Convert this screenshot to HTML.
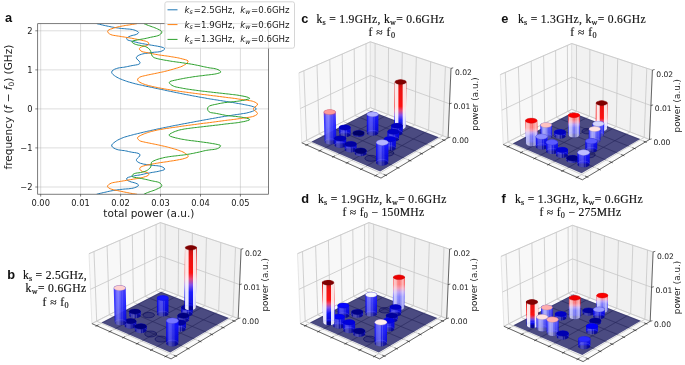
<!DOCTYPE html>
<html><head><meta charset="utf-8"><title>figure</title><style>html,body{margin:0;padding:0;background:#fff}svg{display:block}</style></head><body>
<svg width="685" height="365" viewBox="0 0 685 365" font-family="'DejaVu Sans','Liberation Sans',sans-serif" fill="#1a1a1a">
<defs><linearGradient id="bAb13" x1="0" x2="0" y1="1" y2="0"><stop offset="0" stop-color="#000096"/><stop offset="0.05" stop-color="#0000e1"/><stop offset="0.26" stop-color="#0e0eff"/><stop offset="0.38" stop-color="#7846eb"/><stop offset="0.48" stop-color="#e63c6e"/><stop offset="0.58" stop-color="#ff0000"/><stop offset="0.85" stop-color="#e80000"/><stop offset="1" stop-color="#b90000"/></linearGradient><linearGradient id="bAc13" x1="0" x2="0" y1="1" y2="0"><stop offset="0" stop-color="#000096"/><stop offset="0.05" stop-color="#0000e1"/><stop offset="0.14" stop-color="#0e0eff"/><stop offset="0.26" stop-color="#7846eb"/><stop offset="0.36" stop-color="#e63c6e"/><stop offset="0.46" stop-color="#ff0000"/><stop offset="0.85" stop-color="#e80000"/><stop offset="1" stop-color="#b90000"/></linearGradient><linearGradient id="bAd1" x1="0" x2="0" y1="1" y2="0"><stop offset="0" stop-color="#000096"/><stop offset="0.05" stop-color="#0000e1"/><stop offset="0.25" stop-color="#0e0eff"/><stop offset="0.37" stop-color="#7846eb"/><stop offset="0.47" stop-color="#e63c6e"/><stop offset="0.57" stop-color="#ff0000"/><stop offset="0.85" stop-color="#e80000"/><stop offset="1" stop-color="#b90000"/></linearGradient><linearGradient id="bAe13" x1="0" x2="0" y1="1" y2="0"><stop offset="0" stop-color="#000096"/><stop offset="0.05" stop-color="#0000e1"/><stop offset="0.08" stop-color="#0e0eff"/><stop offset="0.2" stop-color="#7846eb"/><stop offset="0.3" stop-color="#e63c6e"/><stop offset="0.4" stop-color="#ff0000"/><stop offset="0.85" stop-color="#e80000"/><stop offset="1" stop-color="#b90000"/></linearGradient><linearGradient id="bAf1" x1="0" x2="0" y1="1" y2="0"><stop offset="0" stop-color="#000096"/><stop offset="0.05" stop-color="#0000e1"/><stop offset="0.13" stop-color="#0e0eff"/><stop offset="0.25" stop-color="#7846eb"/><stop offset="0.35" stop-color="#e63c6e"/><stop offset="0.45" stop-color="#ff0000"/><stop offset="0.85" stop-color="#e80000"/><stop offset="1" stop-color="#b90000"/></linearGradient><linearGradient id="bodyA" x1="0" x2="0" y1="1" y2="0"><stop offset="0" stop-color="#000096"/><stop offset="0.06" stop-color="#0000e1"/><stop offset="0.28" stop-color="#0e0eff"/><stop offset="0.4" stop-color="#7846eb"/><stop offset="0.5" stop-color="#e63c6e"/><stop offset="0.6" stop-color="#ff0000"/><stop offset="1" stop-color="#e40000"/></linearGradient><linearGradient id="bodyB" x1="0" x2="0" y1="1" y2="0"><stop offset="0" stop-color="#000096"/><stop offset="0.06" stop-color="#0000e1"/><stop offset="0.32" stop-color="#0e0eff"/><stop offset="0.56" stop-color="#281efa"/><stop offset="0.67" stop-color="#c81e6e"/><stop offset="0.77" stop-color="#ff0a0a"/><stop offset="1" stop-color="#e40000"/></linearGradient><linearGradient id="g0" href="#bodyB" gradientUnits="userSpaceOnUse" x1="0" x2="0" y1="313.8" y2="253.3"/><linearGradient id="ovD" x1="0" x2="1" y1="0" y2="0"><stop offset="0" stop-color="#fff" stop-opacity="0"/><stop offset="0.2" stop-color="#fff" stop-opacity="0.1"/><stop offset="0.4" stop-color="#fff" stop-opacity="0.18"/><stop offset="0.55" stop-color="#fff" stop-opacity="0.05"/><stop offset="1" stop-color="#fff" stop-opacity="0"/></linearGradient><linearGradient id="g1" href="#bAb13" gradientUnits="userSpaceOnUse" x1="0" x2="0" y1="307.6" y2="247.8"/><linearGradient id="ovA" x1="0" x2="1" y1="0" y2="0"><stop offset="0" stop-color="#fff" stop-opacity="0"/><stop offset="0.05" stop-color="#fff" stop-opacity="0"/><stop offset="0.1" stop-color="#fff" stop-opacity="0.9"/><stop offset="0.31" stop-color="#fff" stop-opacity="0.9"/><stop offset="0.38" stop-color="#fff" stop-opacity="0"/><stop offset="0.66" stop-color="#fff" stop-opacity="0"/><stop offset="0.72" stop-color="#fff" stop-opacity="0.88"/><stop offset="0.93" stop-color="#fff" stop-opacity="0.88"/><stop offset="0.98" stop-color="#fff" stop-opacity="0"/><stop offset="1" stop-color="#fff" stop-opacity="0"/></linearGradient><linearGradient id="g2" href="#bodyB" gradientUnits="userSpaceOnUse" x1="0" x2="0" y1="313.9" y2="253.4"/><linearGradient id="g3" href="#bodyB" gradientUnits="userSpaceOnUse" x1="0" x2="0" y1="315.5" y2="254.9"/><linearGradient id="g4" href="#bodyB" gradientUnits="userSpaceOnUse" x1="0" x2="0" y1="320" y2="258.9"/><linearGradient id="g5" href="#bodyB" gradientUnits="userSpaceOnUse" x1="0" x2="0" y1="325.8" y2="264.1"/><linearGradient id="g6" href="#bodyB" gradientUnits="userSpaceOnUse" x1="0" x2="0" y1="322.5" y2="261.2"/><linearGradient id="ovC" x1="0" x2="1" y1="0" y2="0"><stop offset="0" stop-color="#fff" stop-opacity="0"/><stop offset="0.15" stop-color="#fff" stop-opacity="0.2"/><stop offset="0.4" stop-color="#fff" stop-opacity="0.3"/><stop offset="0.55" stop-color="#fff" stop-opacity="0.1"/><stop offset="0.8" stop-color="#fff" stop-opacity="0.08"/><stop offset="1" stop-color="#fff" stop-opacity="0"/></linearGradient><linearGradient id="g7" href="#bodyB" gradientUnits="userSpaceOnUse" x1="0" x2="0" y1="329.1" y2="267.1"/><linearGradient id="g8" href="#bodyB" gradientUnits="userSpaceOnUse" x1="0" x2="0" y1="330.3" y2="268.2"/><linearGradient id="g9" href="#bodyB" gradientUnits="userSpaceOnUse" x1="0" x2="0" y1="343.3" y2="280"/><linearGradient id="g10" href="#bAc13" gradientUnits="userSpaceOnUse" x1="0" x2="0" y1="126.8" y2="82"/><linearGradient id="g11" href="#bodyB" gradientUnits="userSpaceOnUse" x1="0" x2="0" y1="133" y2="87.7"/><linearGradient id="g12" href="#bodyB" gradientUnits="userSpaceOnUse" x1="0" x2="0" y1="134.3" y2="88.9"/><linearGradient id="g13" href="#bodyB" gradientUnits="userSpaceOnUse" x1="0" x2="0" y1="133.1" y2="87.8"/><linearGradient id="g14" href="#bodyB" gradientUnits="userSpaceOnUse" x1="0" x2="0" y1="134.7" y2="89.3"/><linearGradient id="g15" href="#bodyB" gradientUnits="userSpaceOnUse" x1="0" x2="0" y1="139.2" y2="93.4"/><linearGradient id="g16" href="#bodyB" gradientUnits="userSpaceOnUse" x1="0" x2="0" y1="141.7" y2="95.7"/><linearGradient id="g17" href="#bodyB" gradientUnits="userSpaceOnUse" x1="0" x2="0" y1="145" y2="98.8"/><linearGradient id="g18" href="#bodyB" gradientUnits="userSpaceOnUse" x1="0" x2="0" y1="148.3" y2="101.9"/><linearGradient id="g19" href="#bodyB" gradientUnits="userSpaceOnUse" x1="0" x2="0" y1="149.5" y2="103"/><linearGradient id="g20" href="#bodyB" gradientUnits="userSpaceOnUse" x1="0" x2="0" y1="153.2" y2="106.4"/><linearGradient id="g21" href="#bodyB" gradientUnits="userSpaceOnUse" x1="0" x2="0" y1="162.5" y2="115.1"/><linearGradient id="g22" href="#bodyA" gradientUnits="userSpaceOnUse" x1="0" x2="0" y1="307.6" y2="268.8"/><linearGradient id="ovB" x1="0" x2="1" y1="0" y2="0"><stop offset="0" stop-color="#fff" stop-opacity="0.15"/><stop offset="0.1" stop-color="#fff" stop-opacity="0.75"/><stop offset="0.3" stop-color="#fff" stop-opacity="0.65"/><stop offset="0.42" stop-color="#fff" stop-opacity="0.38"/><stop offset="0.6" stop-color="#fff" stop-opacity="0.4"/><stop offset="0.8" stop-color="#fff" stop-opacity="0.7"/><stop offset="0.92" stop-color="#fff" stop-opacity="0.6"/><stop offset="1" stop-color="#fff" stop-opacity="0.1"/></linearGradient><linearGradient id="g23" href="#bodyB" gradientUnits="userSpaceOnUse" x1="0" x2="0" y1="313.8" y2="274.6"/><linearGradient id="g24" href="#bodyB" gradientUnits="userSpaceOnUse" x1="0" x2="0" y1="315.1" y2="275.8"/><linearGradient id="g25" href="#bodyB" gradientUnits="userSpaceOnUse" x1="0" x2="0" y1="313.9" y2="274.7"/><linearGradient id="g26" href="#bodyB" gradientUnits="userSpaceOnUse" x1="0" x2="0" y1="315.5" y2="276.2"/><linearGradient id="g27" href="#bodyB" gradientUnits="userSpaceOnUse" x1="0" x2="0" y1="320" y2="280.4"/><linearGradient id="g28" href="#bodyB" gradientUnits="userSpaceOnUse" x1="0" x2="0" y1="325.8" y2="285.8"/><linearGradient id="g29" href="#bAd1" gradientUnits="userSpaceOnUse" x1="0" x2="0" y1="322.5" y2="282.7"/><linearGradient id="g30" href="#bodyB" gradientUnits="userSpaceOnUse" x1="0" x2="0" y1="329.1" y2="288.9"/><linearGradient id="g31" href="#bodyB" gradientUnits="userSpaceOnUse" x1="0" x2="0" y1="330.3" y2="290.1"/><linearGradient id="g32" href="#bodyB" gradientUnits="userSpaceOnUse" x1="0" x2="0" y1="334" y2="293.5"/><linearGradient id="g33" href="#bodyB" gradientUnits="userSpaceOnUse" x1="0" x2="0" y1="343.3" y2="302.3"/><linearGradient id="g34" href="#bAe13" gradientUnits="userSpaceOnUse" x1="0" x2="0" y1="128.5" y2="103"/><linearGradient id="g35" href="#bodyB" gradientUnits="userSpaceOnUse" x1="0" x2="0" y1="134.7" y2="108.9"/><linearGradient id="ovS" x1="0" x2="1" y1="0" y2="0"><stop offset="0" stop-color="#fff" stop-opacity="0"/><stop offset="0.12" stop-color="#fff" stop-opacity="0.35"/><stop offset="0.3" stop-color="#fff" stop-opacity="0.6"/><stop offset="0.5" stop-color="#fff" stop-opacity="0.5"/><stop offset="0.65" stop-color="#fff" stop-opacity="0.25"/><stop offset="0.85" stop-color="#fff" stop-opacity="0.3"/><stop offset="1" stop-color="#fff" stop-opacity="0"/></linearGradient><linearGradient id="g36" href="#bodyB" gradientUnits="userSpaceOnUse" x1="0" x2="0" y1="136" y2="110.2"/><linearGradient id="g37" href="#bodyA" gradientUnits="userSpaceOnUse" x1="0" x2="0" y1="134.8" y2="109"/><linearGradient id="g38" href="#bodyB" gradientUnits="userSpaceOnUse" x1="0" x2="0" y1="136.4" y2="110.6"/><linearGradient id="g39" href="#bodyB" gradientUnits="userSpaceOnUse" x1="0" x2="0" y1="140.9" y2="114.8"/><linearGradient id="g40" href="#bodyA" gradientUnits="userSpaceOnUse" x1="0" x2="0" y1="143.4" y2="117.3"/><linearGradient id="g41" href="#bodyB" gradientUnits="userSpaceOnUse" x1="0" x2="0" y1="146.7" y2="120.4"/><linearGradient id="g42" href="#bodyB" gradientUnits="userSpaceOnUse" x1="0" x2="0" y1="150" y2="123.6"/><linearGradient id="g43" href="#bodyB" gradientUnits="userSpaceOnUse" x1="0" x2="0" y1="151.2" y2="124.8"/><linearGradient id="g44" href="#bodyB" gradientUnits="userSpaceOnUse" x1="0" x2="0" y1="154.9" y2="128.3"/><linearGradient id="g45" href="#bodyB" gradientUnits="userSpaceOnUse" x1="0" x2="0" y1="160" y2="133.2"/><linearGradient id="g46" href="#bodyB" gradientUnits="userSpaceOnUse" x1="0" x2="0" y1="164.2" y2="137.3"/><linearGradient id="g47" href="#bodyA" gradientUnits="userSpaceOnUse" x1="0" x2="0" y1="310.3" y2="287.8"/><linearGradient id="g48" href="#bodyB" gradientUnits="userSpaceOnUse" x1="0" x2="0" y1="313" y2="290.4"/><linearGradient id="g49" href="#bodyB" gradientUnits="userSpaceOnUse" x1="0" x2="0" y1="316.5" y2="293.7"/><linearGradient id="g50" href="#bodyB" gradientUnits="userSpaceOnUse" x1="0" x2="0" y1="317.8" y2="295"/><linearGradient id="g51" href="#bodyA" gradientUnits="userSpaceOnUse" x1="0" x2="0" y1="316.6" y2="293.8"/><linearGradient id="g52" href="#bodyB" gradientUnits="userSpaceOnUse" x1="0" x2="0" y1="318.2" y2="295.3"/><linearGradient id="g53" href="#bodyB" gradientUnits="userSpaceOnUse" x1="0" x2="0" y1="322.7" y2="299.6"/><linearGradient id="g54" href="#bAf1" gradientUnits="userSpaceOnUse" x1="0" x2="0" y1="325.2" y2="302.1"/><linearGradient id="g55" href="#bodyB" gradientUnits="userSpaceOnUse" x1="0" x2="0" y1="328.5" y2="305.3"/><linearGradient id="g56" href="#bodyB" gradientUnits="userSpaceOnUse" x1="0" x2="0" y1="331.8" y2="308.4"/><linearGradient id="g57" href="#bodyB" gradientUnits="userSpaceOnUse" x1="0" x2="0" y1="333" y2="309.6"/><linearGradient id="g58" href="#bodyB" gradientUnits="userSpaceOnUse" x1="0" x2="0" y1="336.7" y2="313.2"/><linearGradient id="g59" href="#bodyB" gradientUnits="userSpaceOnUse" x1="0" x2="0" y1="346" y2="322.2"/></defs>
<g id="pb"><polygon points="91.9,323.6 160.5,288.5 160.4,222.6 89,253.7" fill="#f8f8f8" stroke="#d6d6d6" stroke-width=".6"/>
<polygon points="160.5,288.5 238.2,318.6 241.1,249.2 160.4,222.6" fill="#f1f1f1" stroke="#d6d6d6" stroke-width=".6"/>
<polygon points="91.9,323.6 171.1,358.9 238.2,318.6 160.5,288.5" fill="#fafafa" stroke="#d6d6d6" stroke-width=".6"/>
<path d="M96.7,325.8 L165.2,290.3 L165.2,224.2 M175.8,356.1 L96.7,321.2 L94,251.5 M109.8,331.6 L178.2,295.3 L178.6,228.6 M188.2,348.6 L109.3,314.8 L107.1,245.8 M123.3,337.6 L191.4,300.5 L192.4,233.2 M200.2,341.4 L121.5,308.5 L119.9,240.3 M137.1,343.7 L204.9,305.7 L206.4,237.8 M211.8,334.4 L133.5,302.4 L132.3,234.8 M151.2,350 L218.7,311 L220.8,242.5 M223.2,327.6 L145.1,296.4 L144.3,229.6 M165.7,356.4 L232.9,316.5 L235.5,247.4 M234.2,321 L156.4,290.6 L156.1,224.5 M91.9,323.6 L160.5,288.5 L238.2,318.6 M90.5,289.3 L160.5,256.2 L239.6,284.6 M89,253.7 L160.4,222.6 L241.1,249.2" fill="none" stroke="#c6c6c6" stroke-width=".8"/>
<path d="M91.9,323.6 L171.1,358.9 L238.2,318.6 M238.2,318.6 L241.1,249.2 M98.5,324.8 L95.5,326.4 M173.7,355.1 L177.1,356.6 M111.6,330.6 L108.7,332.2 M186.1,347.8 L189.5,349.2 M125.1,336.6 L122.1,338.2 M198.1,340.6 L201.5,342 M138.8,342.7 L135.9,344.3 M209.8,333.6 L213.1,335 M153,349 L150,350.7 M221.1,326.8 L224.5,328.1 M167.5,355.4 L164.5,357.1 M232.2,320.2 L235.5,321.5 M238.2,318.6 L240.4,318 M239.6,284.6 L241.8,284 M241.1,249.2 L243.3,248.6" fill="none" stroke="#222" stroke-width=".65"/>
<polygon points="101.4,322.5 170.3,352.4 228.9,318.1 161.1,291.7" fill="#00004d" fill-opacity=".7"/>
<path d="M114.6,329.1 L174.1,297.5 M114,316.8 L182.7,346.3 M128,335 L187.3,302.7 M126.3,310.5 L194.8,339.2 M141.8,341.1 L200.8,308 M138.2,304.3 L206.4,332.2 M155.9,347.3 L214.7,313.4 M149.8,298.3 L217.8,325.5" fill="none" stroke="#14144a" stroke-opacity=".4" stroke-width=".6"/>
<path d="M181.1,313.8 A5.8,2.7 0 0 0 192.7,313.8 L192.8,307.5 A5.8,2.7 0 0 0 181.2,307.5 Z" fill="url(#g0)" fill-opacity=".93"/>
<path d="M181.1,313.8 A5.8,2.7 0 0 0 192.7,313.8 L192.8,307.5 A5.8,2.7 0 0 0 181.2,307.5 Z" fill="url(#ovD)"/>
<path d="M183.2,315.9 V309.6 M184.3,316.2 V309.9 M185.4,316.4 V310.1 M186.7,316.5 V310.2 M188.4,316.4 V310.1" stroke="#fff" stroke-opacity=".3" stroke-width=".6" fill="none"/>
<path d="M181.1,313.8 A5.8,2.7 0 0 1 192.7,313.8" fill="none" stroke="#9a9aff" stroke-opacity=".35" stroke-width=".6"/>
<ellipse cx="187" cy="307.5" rx="5.6" ry="2.5" fill="#000099" stroke="#000077" stroke-opacity=".55" stroke-width=".6"/>
<ellipse cx="148.7" cy="315.1" rx="5.8" ry="2.7" fill="#000060" fill-opacity=".25" stroke="#000058" stroke-opacity=".75" stroke-width=".7"/>
<path d="M184.3,307.6 A5.7,2.7 0 0 0 195.8,307.6 L196.8,247.8 A5.9,2.4 0 0 0 185,247.8 Z" fill="url(#g1)" fill-opacity=".93"/>
<path d="M184.3,307.6 A5.7,2.7 0 0 0 195.8,307.6 L196.8,247.8 A5.9,2.4 0 0 0 185,247.8 Z" fill="url(#ovA)"/>
<path d="M184.3,307.6 A5.7,2.7 0 0 1 195.8,307.6" fill="none" stroke="#9a9aff" stroke-opacity=".35" stroke-width=".6"/>
<ellipse cx="190.9" cy="247.8" rx="5.7" ry="2.2" fill="#800000" stroke="#630000" stroke-opacity=".55" stroke-width=".6"/>
<path d="M156.9,313.9 A5.8,2.7 0 0 0 168.5,313.9 L168.5,298 A5.8,2.7 0 0 0 156.9,298 Z" fill="url(#g2)" fill-opacity=".93"/>
<path d="M156.9,313.9 A5.8,2.7 0 0 0 168.5,313.9 L168.5,298 A5.8,2.7 0 0 0 156.9,298 Z" fill="url(#ovD)"/>
<path d="M159,316 V300 M160.1,316.3 V300.3 M161.2,316.5 V300.5 M162.5,316.6 V300.6 M164.2,316.5 V300.5" stroke="#fff" stroke-opacity=".3" stroke-width=".6" fill="none"/>
<path d="M156.9,313.9 A5.8,2.7 0 0 1 168.5,313.9" fill="none" stroke="#9a9aff" stroke-opacity=".35" stroke-width=".6"/>
<ellipse cx="162.7" cy="298" rx="5.6" ry="2.5" fill="#1414ff" stroke="#0f0fc6" stroke-opacity=".55" stroke-width=".6"/>
<path d="M129.2,315.5 A5.8,2.7 0 0 0 140.8,315.5 L140.7,311.6 A5.8,2.7 0 0 0 129.1,311.6 Z" fill="url(#g3)" fill-opacity=".93"/>
<path d="M129.2,315.5 A5.8,2.7 0 0 0 140.8,315.5 L140.7,311.6 A5.8,2.7 0 0 0 129.1,311.6 Z" fill="url(#ovD)"/>
<path d="M131.3,317.6 V313.6 M132.3,317.9 V314 M133.5,318.2 V314.2 M134.8,318.2 V314.3 M136.5,318.2 V314.2" stroke="#fff" stroke-opacity=".3" stroke-width=".6" fill="none"/>
<path d="M129.2,315.5 A5.8,2.7 0 0 1 140.8,315.5" fill="none" stroke="#9a9aff" stroke-opacity=".35" stroke-width=".6"/>
<ellipse cx="134.9" cy="311.6" rx="5.6" ry="2.5" fill="#00007d" stroke="#000061" stroke-opacity=".55" stroke-width=".6"/>
<path d="M177.4,320 A5.9,2.8 0 0 0 189.1,320 L189.2,315.7 A5.9,2.8 0 0 0 177.5,315.7 Z" fill="url(#g4)" fill-opacity=".93"/>
<path d="M177.4,320 A5.9,2.8 0 0 0 189.1,320 L189.2,315.7 A5.9,2.8 0 0 0 177.5,315.7 Z" fill="url(#ovD)"/>
<path d="M179.5,322.1 V317.8 M180.6,322.4 V318.2 M181.8,322.6 V318.4 M183.1,322.7 V318.5 M184.8,322.6 V318.4" stroke="#fff" stroke-opacity=".3" stroke-width=".6" fill="none"/>
<path d="M177.4,320 A5.9,2.8 0 0 1 189.1,320" fill="none" stroke="#9a9aff" stroke-opacity=".35" stroke-width=".6"/>
<ellipse cx="183.3" cy="315.7" rx="5.7" ry="2.6" fill="#000080" stroke="#000063" stroke-opacity=".55" stroke-width=".6"/>
<path d="M124.5,325.8 A5.9,2.9 0 0 0 136.4,325.8 L136.3,321.2 A5.9,2.8 0 0 0 124.4,321.2 Z" fill="url(#g5)" fill-opacity=".93"/>
<path d="M124.5,325.8 A5.9,2.9 0 0 0 136.4,325.8 L136.3,321.2 A5.9,2.8 0 0 0 124.4,321.2 Z" fill="url(#ovD)"/>
<path d="M126.7,328 V323.3 M127.7,328.3 V323.7 M128.9,328.5 V323.9 M130.2,328.6 V324 M132,328.5 V323.9" stroke="#fff" stroke-opacity=".3" stroke-width=".6" fill="none"/>
<path d="M124.5,325.8 A5.9,2.9 0 0 1 136.4,325.8" fill="none" stroke="#9a9aff" stroke-opacity=".35" stroke-width=".6"/>
<ellipse cx="130.4" cy="321.2" rx="5.7" ry="2.6" fill="#000084" stroke="#000066" stroke-opacity=".55" stroke-width=".6"/>
<path d="M114.7,322.5 A5.9,2.8 0 0 0 126.5,322.5 L125.7,287.9 A6,2.7 0 0 0 113.7,287.9 Z" fill="url(#g6)" fill-opacity=".93"/>
<path d="M114.7,322.5 A5.9,2.8 0 0 0 126.5,322.5 L125.7,287.9 A6,2.7 0 0 0 113.7,287.9 Z" fill="url(#ovC)"/>
<path d="M116.8,324.6 V289.9 M117.9,325 V290.2 M119,325.2 V290.4 M120.3,325.3 V290.5 M122.1,325.2 V290.4" stroke="#fff" stroke-opacity=".3" stroke-width=".6" fill="none"/>
<path d="M114.7,322.5 A5.9,2.8 0 0 1 126.5,322.5" fill="none" stroke="#9a9aff" stroke-opacity=".35" stroke-width=".6"/>
<ellipse cx="119.7" cy="287.9" rx="5.8" ry="2.5" fill="#ffd1d1" stroke="#c6a3a3" stroke-opacity=".55" stroke-width=".6"/>
<path d="M174,329.1 A6,2.9 0 0 0 185.9,329.1 L186,322.6 A6,2.9 0 0 0 174,322.6 Z" fill="url(#g7)" fill-opacity=".93"/>
<path d="M174,329.1 A6,2.9 0 0 0 185.9,329.1 L186,322.6 A6,2.9 0 0 0 174,322.6 Z" fill="url(#ovD)"/>
<path d="M176.1,331.3 V324.8 M177.2,331.7 V325.2 M178.4,331.9 V325.4 M179.7,332 V325.5 M181.5,331.9 V325.4" stroke="#fff" stroke-opacity=".3" stroke-width=".6" fill="none"/>
<path d="M174,329.1 A6,2.9 0 0 1 185.9,329.1" fill="none" stroke="#9a9aff" stroke-opacity=".35" stroke-width=".6"/>
<ellipse cx="180" cy="322.6" rx="5.8" ry="2.7" fill="#000099" stroke="#000077" stroke-opacity=".55" stroke-width=".6"/>
<path d="M134.7,330.3 A6,2.9 0 0 0 146.7,330.3 L146.7,326.4 A6,2.9 0 0 0 134.7,326.4 Z" fill="url(#g8)" fill-opacity=".93"/>
<path d="M134.7,330.3 A6,2.9 0 0 0 146.7,330.3 L146.7,326.4 A6,2.9 0 0 0 134.7,326.4 Z" fill="url(#ovD)"/>
<path d="M136.9,332.6 V328.6 M138,332.9 V329 M139.2,333.2 V329.2 M140.5,333.3 V329.3 M142.3,333.2 V329.2" stroke="#fff" stroke-opacity=".3" stroke-width=".6" fill="none"/>
<path d="M134.7,330.3 A6,2.9 0 0 1 146.7,330.3" fill="none" stroke="#9a9aff" stroke-opacity=".35" stroke-width=".6"/>
<ellipse cx="140.7" cy="326.4" rx="5.8" ry="2.7" fill="#00007b" stroke="#00005f" stroke-opacity=".55" stroke-width=".6"/>
<ellipse cx="150.7" cy="334" rx="6" ry="3" fill="#000060" fill-opacity=".25" stroke="#000058" stroke-opacity=".75" stroke-width=".7"/>
<ellipse cx="161.1" cy="339.1" rx="6.1" ry="3" fill="#000060" fill-opacity=".25" stroke="#000058" stroke-opacity=".75" stroke-width=".7"/>
<path d="M166.1,343.3 A6.1,3.1 0 0 0 178.4,343.3 L178.6,320.7 A6.2,3 0 0 0 166.1,320.7 Z" fill="url(#g9)" fill-opacity=".93"/>
<path d="M166.1,343.3 A6.1,3.1 0 0 0 178.4,343.3 L178.6,320.7 A6.2,3 0 0 0 166.1,320.7 Z" fill="url(#ovD)"/>
<path d="M168.3,345.7 V322.9 M169.5,346.1 V323.3 M170.7,346.3 V323.5 M172,346.4 V323.6 M173.9,346.3 V323.5" stroke="#fff" stroke-opacity=".3" stroke-width=".6" fill="none"/>
<path d="M166.1,343.3 A6.1,3.1 0 0 1 178.4,343.3" fill="none" stroke="#9a9aff" stroke-opacity=".35" stroke-width=".6"/>
<ellipse cx="172.4" cy="320.7" rx="6" ry="2.8" fill="#7676ff" stroke="#5c5cc6" stroke-opacity=".55" stroke-width=".6"/>
<text x="242.1" y="324.2" font-size="7.6">0.00</text>
<text x="243.5" y="289.8" font-size="7.6">0.01</text>
<text x="245" y="256.1" font-size="7.6">0.02</text>
<text transform="translate(268.3,284.8) rotate(-90)" text-anchor="middle" font-size="8.8">power (a.u.)</text></g>
<g id="pc"><polygon points="301.8,142.8 370.4,107.7 370.3,41.8 298.9,72.9" fill="#f8f8f8" stroke="#d6d6d6" stroke-width=".6"/>
<polygon points="370.4,107.7 448.1,137.8 451,68.4 370.3,41.8" fill="#f1f1f1" stroke="#d6d6d6" stroke-width=".6"/>
<polygon points="301.8,142.8 381,178.1 448.1,137.8 370.4,107.7" fill="#fafafa" stroke="#d6d6d6" stroke-width=".6"/>
<path d="M306.6,145 L375.1,109.5 L375.1,43.4 M385.7,175.3 L306.6,140.4 L303.9,70.7 M319.7,150.8 L388.1,114.5 L388.5,47.8 M398.1,167.8 L319.2,134 L317,65 M333.2,156.8 L401.3,119.7 L402.3,52.4 M410.1,160.6 L331.4,127.7 L329.8,59.5 M347,162.9 L414.8,124.9 L416.3,57 M421.7,153.6 L343.4,121.6 L342.2,54 M361.1,169.2 L428.6,130.2 L430.7,61.7 M433.1,146.8 L355,115.6 L354.2,48.8 M375.6,175.6 L442.8,135.7 L445.4,66.6 M444.1,140.2 L366.3,109.8 L366,43.7 M301.8,142.8 L370.4,107.7 L448.1,137.8 M300.4,108.5 L370.4,75.4 L449.5,103.8 M298.9,72.9 L370.3,41.8 L451,68.4" fill="none" stroke="#c6c6c6" stroke-width=".8"/>
<path d="M301.8,142.8 L381,178.1 L448.1,137.8 M448.1,137.8 L451,68.4 M308.4,144 L305.4,145.6 M383.6,174.3 L387,175.8 M321.5,149.8 L318.6,151.4 M396,167 L399.4,168.4 M335,155.8 L332,157.4 M408,159.8 L411.4,161.2 M348.7,161.9 L345.8,163.5 M419.7,152.8 L423,154.2 M362.9,168.2 L359.9,169.9 M431,146 L434.4,147.3 M377.4,174.6 L374.4,176.3 M442.1,139.4 L445.4,140.7 M448.1,137.8 L450.3,137.2 M449.5,103.8 L451.7,103.2 M451,68.4 L453.2,67.8" fill="none" stroke="#222" stroke-width=".65"/>
<polygon points="311.3,141.7 380.2,171.6 438.8,137.3 371,110.9" fill="#00004d" fill-opacity=".7"/>
<path d="M324.5,148.3 L384,116.7 M323.9,136 L392.6,165.5 M337.9,154.2 L397.2,121.9 M336.2,129.7 L404.7,158.4 M351.7,160.3 L410.7,127.2 M348.1,123.5 L416.3,151.4 M365.8,166.5 L424.6,132.6 M359.7,117.5 L427.7,144.7" fill="none" stroke="#14144a" stroke-opacity=".4" stroke-width=".6"/>
<path d="M394.2,126.8 A5.7,2.7 0 0 0 405.7,126.8 L406.4,82 A5.8,2.5 0 0 0 394.7,82 Z" fill="url(#g10)" fill-opacity=".93"/>
<path d="M394.2,126.8 A5.7,2.7 0 0 0 405.7,126.8 L406.4,82 A5.8,2.5 0 0 0 394.7,82 Z" fill="url(#ovA)"/>
<path d="M394.2,126.8 A5.7,2.7 0 0 1 405.7,126.8" fill="none" stroke="#9a9aff" stroke-opacity=".35" stroke-width=".6"/>
<ellipse cx="400.6" cy="82" rx="5.6" ry="2.3" fill="#800000" stroke="#630000" stroke-opacity=".55" stroke-width=".6"/>
<path d="M391,133 A5.8,2.7 0 0 0 402.6,133 L402.7,125.8 A5.8,2.7 0 0 0 391.1,125.8 Z" fill="url(#g11)" fill-opacity=".93"/>
<path d="M391,133 A5.8,2.7 0 0 0 402.6,133 L402.7,125.8 A5.8,2.7 0 0 0 391.1,125.8 Z" fill="url(#ovD)"/>
<path d="M393.1,135.1 V127.9 M394.2,135.4 V128.2 M395.3,135.6 V128.4 M396.6,135.7 V128.5 M398.3,135.6 V128.4" stroke="#fff" stroke-opacity=".3" stroke-width=".6" fill="none"/>
<path d="M391,133 A5.8,2.7 0 0 1 402.6,133" fill="none" stroke="#9a9aff" stroke-opacity=".35" stroke-width=".6"/>
<ellipse cx="396.9" cy="125.8" rx="5.6" ry="2.5" fill="#0000c0" stroke="#000095" stroke-opacity=".55" stroke-width=".6"/>
<path d="M352.8,134.3 A5.8,2.7 0 0 0 364.4,134.3 L364.4,132.9 A5.8,2.7 0 0 0 352.8,132.9 Z" fill="url(#g12)" fill-opacity=".93"/>
<path d="M352.8,134.3 A5.8,2.7 0 0 0 364.4,134.3 L364.4,132.9 A5.8,2.7 0 0 0 352.8,132.9 Z" fill="url(#ovD)"/>
<path d="M352.8,134.3 A5.8,2.7 0 0 1 364.4,134.3" fill="none" stroke="#9a9aff" stroke-opacity=".35" stroke-width=".6"/>
<ellipse cx="358.6" cy="132.9" rx="5.6" ry="2.5" fill="#000064" stroke="#00004e" stroke-opacity=".55" stroke-width=".6"/>
<path d="M366.8,133.1 A5.8,2.7 0 0 0 378.4,133.1 L378.4,114.3 A5.8,2.6 0 0 0 366.8,114.3 Z" fill="url(#g13)" fill-opacity=".93"/>
<path d="M366.8,133.1 A5.8,2.7 0 0 0 378.4,133.1 L378.4,114.3 A5.8,2.6 0 0 0 366.8,114.3 Z" fill="url(#ovD)"/>
<path d="M368.9,135.2 V116.4 M370,135.5 V116.7 M371.1,135.7 V116.9 M372.4,135.8 V117 M374.1,135.7 V116.9" stroke="#fff" stroke-opacity=".3" stroke-width=".6" fill="none"/>
<path d="M366.8,133.1 A5.8,2.7 0 0 1 378.4,133.1" fill="none" stroke="#9a9aff" stroke-opacity=".35" stroke-width=".6"/>
<ellipse cx="372.6" cy="114.3" rx="5.6" ry="2.4" fill="#aeaeff" stroke="#8787c6" stroke-opacity=".55" stroke-width=".6"/>
<path d="M339.1,134.7 A5.8,2.7 0 0 0 350.7,134.7 L350.6,127.5 A5.8,2.7 0 0 0 338.9,127.5 Z" fill="url(#g14)" fill-opacity=".93"/>
<path d="M339.1,134.7 A5.8,2.7 0 0 0 350.7,134.7 L350.6,127.5 A5.8,2.7 0 0 0 338.9,127.5 Z" fill="url(#ovD)"/>
<path d="M341.2,136.8 V129.5 M342.2,137.1 V129.9 M343.4,137.4 V130.1 M344.7,137.4 V130.2 M346.4,137.4 V130.1" stroke="#fff" stroke-opacity=".3" stroke-width=".6" fill="none"/>
<path d="M339.1,134.7 A5.8,2.7 0 0 1 350.7,134.7" fill="none" stroke="#9a9aff" stroke-opacity=".35" stroke-width=".6"/>
<ellipse cx="344.8" cy="127.5" rx="5.6" ry="2.5" fill="#0000c1" stroke="#000096" stroke-opacity=".55" stroke-width=".6"/>
<path d="M387.3,139.2 A5.9,2.8 0 0 0 399,139.2 L399.1,131.7 A5.9,2.8 0 0 0 387.4,131.7 Z" fill="url(#g15)" fill-opacity=".93"/>
<path d="M387.3,139.2 A5.9,2.8 0 0 0 399,139.2 L399.1,131.7 A5.9,2.8 0 0 0 387.4,131.7 Z" fill="url(#ovD)"/>
<path d="M389.4,141.3 V133.8 M390.5,141.6 V134.2 M391.7,141.8 V134.4 M393,141.9 V134.5 M394.7,141.8 V134.4" stroke="#fff" stroke-opacity=".3" stroke-width=".6" fill="none"/>
<path d="M387.3,139.2 A5.9,2.8 0 0 1 399,139.2" fill="none" stroke="#9a9aff" stroke-opacity=".35" stroke-width=".6"/>
<ellipse cx="393.3" cy="131.7" rx="5.7" ry="2.6" fill="#0000c3" stroke="#000098" stroke-opacity=".55" stroke-width=".6"/>
<path d="M324.6,141.7 A5.9,2.8 0 0 0 336.4,141.7 L335.7,112.1 A6,2.7 0 0 0 323.7,112.1 Z" fill="url(#g16)" fill-opacity=".93"/>
<path d="M324.6,141.7 A5.9,2.8 0 0 0 336.4,141.7 L335.7,112.1 A6,2.7 0 0 0 323.7,112.1 Z" fill="url(#ovC)"/>
<path d="M326.7,143.8 V114.2 M327.8,144.2 V114.5 M328.9,144.4 V114.7 M330.2,144.5 V114.8 M332,144.4 V114.7" stroke="#fff" stroke-opacity=".3" stroke-width=".6" fill="none"/>
<path d="M324.6,141.7 A5.9,2.8 0 0 1 336.4,141.7" fill="none" stroke="#9a9aff" stroke-opacity=".35" stroke-width=".6"/>
<ellipse cx="329.7" cy="112.1" rx="5.8" ry="2.5" fill="#ff9999" stroke="#c67777" stroke-opacity=".55" stroke-width=".6"/>
<path d="M334.4,145 A5.9,2.9 0 0 0 346.3,145 L346.2,138.4 A6,2.8 0 0 0 334.3,138.4 Z" fill="url(#g17)" fill-opacity=".93"/>
<path d="M334.4,145 A5.9,2.9 0 0 0 346.3,145 L346.2,138.4 A6,2.8 0 0 0 334.3,138.4 Z" fill="url(#ovD)"/>
<path d="M336.6,147.2 V140.6 M337.6,147.5 V140.9 M338.8,147.7 V141.2 M340.1,147.8 V141.3 M341.9,147.7 V141.2" stroke="#fff" stroke-opacity=".3" stroke-width=".6" fill="none"/>
<path d="M334.4,145 A5.9,2.9 0 0 1 346.3,145" fill="none" stroke="#9a9aff" stroke-opacity=".35" stroke-width=".6"/>
<ellipse cx="340.2" cy="138.4" rx="5.8" ry="2.6" fill="#0000b4" stroke="#00008c" stroke-opacity=".55" stroke-width=".6"/>
<path d="M383.9,148.3 A6,2.9 0 0 0 395.8,148.3 L395.9,139.1 A6,2.9 0 0 0 383.9,139.1 Z" fill="url(#g18)" fill-opacity=".93"/>
<path d="M383.9,148.3 A6,2.9 0 0 0 395.8,148.3 L395.9,139.1 A6,2.9 0 0 0 383.9,139.1 Z" fill="url(#ovD)"/>
<path d="M386,150.5 V141.3 M387.1,150.9 V141.6 M388.3,151.1 V141.9 M389.6,151.2 V142 M391.4,151.1 V141.9" stroke="#fff" stroke-opacity=".3" stroke-width=".6" fill="none"/>
<path d="M383.9,148.3 A6,2.9 0 0 1 395.8,148.3" fill="none" stroke="#9a9aff" stroke-opacity=".35" stroke-width=".6"/>
<ellipse cx="389.9" cy="139.1" rx="5.8" ry="2.7" fill="#0000dd" stroke="#0000ac" stroke-opacity=".55" stroke-width=".6"/>
<path d="M344.6,149.5 A6,2.9 0 0 0 356.6,149.5 L356.6,144.1 A6,2.9 0 0 0 344.6,144.1 Z" fill="url(#g19)" fill-opacity=".93"/>
<path d="M344.6,149.5 A6,2.9 0 0 0 356.6,149.5 L356.6,144.1 A6,2.9 0 0 0 344.6,144.1 Z" fill="url(#ovD)"/>
<path d="M346.8,151.8 V146.4 M347.9,152.1 V146.7 M349.1,152.4 V146.9 M350.4,152.5 V147 M352.2,152.4 V146.9" stroke="#fff" stroke-opacity=".3" stroke-width=".6" fill="none"/>
<path d="M344.6,149.5 A6,2.9 0 0 1 356.6,149.5" fill="none" stroke="#9a9aff" stroke-opacity=".35" stroke-width=".6"/>
<ellipse cx="350.6" cy="144.1" rx="5.8" ry="2.7" fill="#0000a1" stroke="#00007d" stroke-opacity=".55" stroke-width=".6"/>
<ellipse cx="387.8" cy="153.1" rx="6" ry="3" fill="#000060" fill-opacity=".25" stroke="#000058" stroke-opacity=".75" stroke-width=".7"/>
<path d="M354.6,153.2 A6,3 0 0 0 366.6,153.2 L366.6,150.8 A6,3 0 0 0 354.5,150.8 Z" fill="url(#g20)" fill-opacity=".93"/>
<path d="M354.6,153.2 A6,3 0 0 0 366.6,153.2 L366.6,150.8 A6,3 0 0 0 354.5,150.8 Z" fill="url(#ovD)"/>
<path d="M356.7,155.5 V153.1 M357.8,155.9 V153.4 M359,156.1 V153.7 M360.3,156.2 V153.8 M362.2,156.1 V153.7" stroke="#fff" stroke-opacity=".3" stroke-width=".6" fill="none"/>
<path d="M354.6,153.2 A6,3 0 0 1 366.6,153.2" fill="none" stroke="#9a9aff" stroke-opacity=".35" stroke-width=".6"/>
<ellipse cx="360.6" cy="150.8" rx="5.8" ry="2.8" fill="#000072" stroke="#000058" stroke-opacity=".55" stroke-width=".6"/>
<ellipse cx="371" cy="158.3" rx="6.1" ry="3" fill="#000060" fill-opacity=".25" stroke="#000058" stroke-opacity=".75" stroke-width=".7"/>
<path d="M376,162.5 A6.1,3.1 0 0 0 388.3,162.5 L388.5,142.6 A6.2,3 0 0 0 376,142.6 Z" fill="url(#g21)" fill-opacity=".93"/>
<path d="M376,162.5 A6.1,3.1 0 0 0 388.3,162.5 L388.5,142.6 A6.2,3 0 0 0 376,142.6 Z" fill="url(#ovD)"/>
<path d="M378.2,164.9 V144.9 M379.4,165.3 V145.3 M380.6,165.5 V145.5 M381.9,165.6 V145.6 M383.8,165.5 V145.5" stroke="#fff" stroke-opacity=".3" stroke-width=".6" fill="none"/>
<path d="M376,162.5 A6.1,3.1 0 0 1 388.3,162.5" fill="none" stroke="#9a9aff" stroke-opacity=".35" stroke-width=".6"/>
<ellipse cx="382.3" cy="142.6" rx="6" ry="2.8" fill="#b4b4ff" stroke="#8c8cc6" stroke-opacity=".55" stroke-width=".6"/>
<text x="452" y="143.4" font-size="7.6">0.00</text>
<text x="453.4" y="109" font-size="7.6">0.01</text>
<text x="454.9" y="75.3" font-size="7.6">0.02</text>
<text transform="translate(478.2,104) rotate(-90)" text-anchor="middle" font-size="8.8">power (a.u.)</text></g>
<g id="pd"><polygon points="300.4,323.6 369,288.5 368.9,222.6 297.5,253.7" fill="#f8f8f8" stroke="#d6d6d6" stroke-width=".6"/>
<polygon points="369,288.5 446.7,318.6 449.6,249.2 368.9,222.6" fill="#f1f1f1" stroke="#d6d6d6" stroke-width=".6"/>
<polygon points="300.4,323.6 379.6,358.9 446.7,318.6 369,288.5" fill="#fafafa" stroke="#d6d6d6" stroke-width=".6"/>
<path d="M305.2,325.8 L373.7,290.3 L373.7,224.2 M384.3,356.1 L305.2,321.2 L302.5,251.5 M318.3,331.6 L386.7,295.3 L387.1,228.6 M396.7,348.6 L317.8,314.8 L315.6,245.8 M331.8,337.6 L399.9,300.5 L400.9,233.2 M408.7,341.4 L330,308.5 L328.4,240.3 M345.6,343.7 L413.4,305.7 L414.9,237.8 M420.3,334.4 L342,302.4 L340.8,234.8 M359.7,350 L427.2,311 L429.3,242.5 M431.7,327.6 L353.6,296.4 L352.8,229.6 M374.2,356.4 L441.4,316.5 L444,247.4 M442.7,321 L364.9,290.6 L364.6,224.5 M300.4,323.6 L369,288.5 L446.7,318.6 M299,289.3 L369,256.2 L448.1,284.6 M297.5,253.7 L368.9,222.6 L449.6,249.2" fill="none" stroke="#c6c6c6" stroke-width=".8"/>
<path d="M300.4,323.6 L379.6,358.9 L446.7,318.6 M446.7,318.6 L449.6,249.2 M307,324.8 L304,326.4 M382.2,355.1 L385.6,356.6 M320.1,330.6 L317.2,332.2 M394.6,347.8 L398,349.2 M333.6,336.6 L330.6,338.2 M406.6,340.6 L410,342 M347.3,342.7 L344.4,344.3 M418.3,333.6 L421.6,335 M361.5,349 L358.5,350.7 M429.6,326.8 L433,328.1 M376,355.4 L373,357.1 M440.7,320.2 L444,321.5 M446.7,318.6 L448.9,318 M448.1,284.6 L450.3,284 M449.6,249.2 L451.8,248.6" fill="none" stroke="#222" stroke-width=".65"/>
<polygon points="309.9,322.5 378.8,352.4 437.4,318.1 369.6,291.7" fill="#00004d" fill-opacity=".7"/>
<path d="M323.1,329.1 L382.6,297.5 M322.5,316.8 L391.2,346.3 M336.5,335 L395.8,302.7 M334.8,310.5 L403.3,339.2 M350.3,341.1 L409.3,308 M346.7,304.3 L414.9,332.2 M364.4,347.3 L423.2,313.4 M358.3,298.3 L426.3,325.5" fill="none" stroke="#14144a" stroke-opacity=".4" stroke-width=".6"/>
<ellipse cx="384.8" cy="310.3" rx="5.7" ry="2.7" fill="#000060" fill-opacity=".25" stroke="#000058" stroke-opacity=".75" stroke-width=".7"/>
<path d="M392.8,307.6 A5.7,2.7 0 0 0 404.3,307.6 L404.8,277.3 A5.8,2.5 0 0 0 393.2,277.3 Z" fill="url(#g22)" fill-opacity=".93"/>
<path d="M392.8,307.6 A5.7,2.7 0 0 0 404.3,307.6 L404.8,277.3 A5.8,2.5 0 0 0 393.2,277.3 Z" fill="url(#ovB)"/>
<path d="M394.9,309.7 V279.2 M395.9,310 V279.5 M397.1,310.2 V279.7 M398.3,310.3 V279.8 M400,310.2 V279.7" stroke="#fff" stroke-opacity=".3" stroke-width=".6" fill="none"/>
<path d="M392.8,307.6 A5.7,2.7 0 0 1 404.3,307.6" fill="none" stroke="#9a9aff" stroke-opacity=".35" stroke-width=".6"/>
<ellipse cx="399" cy="277.3" rx="5.6" ry="2.3" fill="#ec0000" stroke="#b80000" stroke-opacity=".55" stroke-width=".6"/>
<path d="M389.6,313.8 A5.8,2.7 0 0 0 401.2,313.8 L401.3,307.1 A5.8,2.7 0 0 0 389.7,307.1 Z" fill="url(#g23)" fill-opacity=".93"/>
<path d="M389.6,313.8 A5.8,2.7 0 0 0 401.2,313.8 L401.3,307.1 A5.8,2.7 0 0 0 389.7,307.1 Z" fill="url(#ovD)"/>
<path d="M391.7,315.9 V309.2 M392.8,316.2 V309.5 M393.9,316.4 V309.7 M395.2,316.5 V309.8 M396.9,316.4 V309.7" stroke="#fff" stroke-opacity=".3" stroke-width=".6" fill="none"/>
<path d="M389.6,313.8 A5.8,2.7 0 0 1 401.2,313.8" fill="none" stroke="#9a9aff" stroke-opacity=".35" stroke-width=".6"/>
<ellipse cx="395.5" cy="307.1" rx="5.6" ry="2.5" fill="#0000c8" stroke="#00009c" stroke-opacity=".55" stroke-width=".6"/>
<path d="M351.4,315.1 A5.8,2.7 0 0 0 363,315.1 L363,312 A5.8,2.7 0 0 0 351.4,312 Z" fill="url(#g24)" fill-opacity=".93"/>
<path d="M351.4,315.1 A5.8,2.7 0 0 0 363,315.1 L363,312 A5.8,2.7 0 0 0 351.4,312 Z" fill="url(#ovD)"/>
<path d="M353.5,317.2 V314.1 M354.6,317.5 V314.4 M355.7,317.7 V314.6 M357,317.8 V314.7 M358.7,317.7 V314.6" stroke="#fff" stroke-opacity=".3" stroke-width=".6" fill="none"/>
<path d="M351.4,315.1 A5.8,2.7 0 0 1 363,315.1" fill="none" stroke="#9a9aff" stroke-opacity=".35" stroke-width=".6"/>
<ellipse cx="357.2" cy="312" rx="5.6" ry="2.5" fill="#000086" stroke="#000068" stroke-opacity=".55" stroke-width=".6"/>
<path d="M365.4,313.9 A5.8,2.7 0 0 0 377,313.9 L377,294.7 A5.8,2.6 0 0 0 365.4,294.7 Z" fill="url(#g25)" fill-opacity=".93"/>
<path d="M365.4,313.9 A5.8,2.7 0 0 0 377,313.9 L377,294.7 A5.8,2.6 0 0 0 365.4,294.7 Z" fill="url(#ovC)"/>
<path d="M367.5,316 V296.8 M368.6,316.3 V297.1 M369.7,316.5 V297.3 M371,316.6 V297.4 M372.7,316.5 V297.3" stroke="#fff" stroke-opacity=".3" stroke-width=".6" fill="none"/>
<path d="M365.4,313.9 A5.8,2.7 0 0 1 377,313.9" fill="none" stroke="#9a9aff" stroke-opacity=".35" stroke-width=".6"/>
<ellipse cx="371.2" cy="294.7" rx="5.6" ry="2.4" fill="#f9f9ff" stroke="#c2c2c6" stroke-opacity=".55" stroke-width=".6"/>
<path d="M337.7,315.5 A5.8,2.7 0 0 0 349.3,315.5 L349.2,305.6 A5.8,2.7 0 0 0 337.5,305.6 Z" fill="url(#g26)" fill-opacity=".93"/>
<path d="M337.7,315.5 A5.8,2.7 0 0 0 349.3,315.5 L349.2,305.6 A5.8,2.7 0 0 0 337.5,305.6 Z" fill="url(#ovD)"/>
<path d="M339.8,317.6 V307.7 M340.8,317.9 V308 M342,318.2 V308.2 M343.3,318.2 V308.3 M345,318.2 V308.2" stroke="#fff" stroke-opacity=".3" stroke-width=".6" fill="none"/>
<path d="M337.7,315.5 A5.8,2.7 0 0 1 349.3,315.5" fill="none" stroke="#9a9aff" stroke-opacity=".35" stroke-width=".6"/>
<ellipse cx="343.3" cy="305.6" rx="5.6" ry="2.5" fill="#0505ff" stroke="#0303c6" stroke-opacity=".55" stroke-width=".6"/>
<path d="M385.9,320 A5.9,2.8 0 0 0 397.6,320 L397.7,315.6 A5.9,2.8 0 0 0 386,315.6 Z" fill="url(#g27)" fill-opacity=".93"/>
<path d="M385.9,320 A5.9,2.8 0 0 0 397.6,320 L397.7,315.6 A5.9,2.8 0 0 0 386,315.6 Z" fill="url(#ovD)"/>
<path d="M388,322.1 V317.7 M389.1,322.4 V318.1 M390.3,322.6 V318.3 M391.6,322.7 V318.4 M393.3,322.6 V318.3" stroke="#fff" stroke-opacity=".3" stroke-width=".6" fill="none"/>
<path d="M385.9,320 A5.9,2.8 0 0 1 397.6,320" fill="none" stroke="#9a9aff" stroke-opacity=".35" stroke-width=".6"/>
<ellipse cx="391.8" cy="315.6" rx="5.7" ry="2.6" fill="#00009c" stroke="#000079" stroke-opacity=".55" stroke-width=".6"/>
<path d="M333,325.8 A5.9,2.9 0 0 0 344.9,325.8 L344.7,316.6 A6,2.8 0 0 0 332.8,316.6 Z" fill="url(#g28)" fill-opacity=".93"/>
<path d="M333,325.8 A5.9,2.9 0 0 0 344.9,325.8 L344.7,316.6 A6,2.8 0 0 0 332.8,316.6 Z" fill="url(#ovD)"/>
<path d="M335.2,328 V318.8 M336.2,328.3 V319.1 M337.4,328.5 V319.3 M338.7,328.6 V319.4 M340.5,328.5 V319.3" stroke="#fff" stroke-opacity=".3" stroke-width=".6" fill="none"/>
<path d="M333,325.8 A5.9,2.9 0 0 1 344.9,325.8" fill="none" stroke="#9a9aff" stroke-opacity=".35" stroke-width=".6"/>
<ellipse cx="338.8" cy="316.6" rx="5.8" ry="2.6" fill="#0000f4" stroke="#0000be" stroke-opacity=".55" stroke-width=".6"/>
<path d="M323.2,322.5 A5.9,2.8 0 0 0 335,322.5 L334.1,282.7 A6,2.6 0 0 0 322,282.7 Z" fill="url(#g29)" fill-opacity=".93"/>
<path d="M323.2,322.5 A5.9,2.8 0 0 0 335,322.5 L334.1,282.7 A6,2.6 0 0 0 322,282.7 Z" fill="url(#ovA)"/>
<path d="M323.2,322.5 A5.9,2.8 0 0 1 335,322.5" fill="none" stroke="#9a9aff" stroke-opacity=".35" stroke-width=".6"/>
<ellipse cx="328.1" cy="282.7" rx="5.8" ry="2.4" fill="#800000" stroke="#630000" stroke-opacity=".55" stroke-width=".6"/>
<path d="M382.5,329.1 A6,2.9 0 0 0 394.4,329.1 L394.5,320.6 A6,2.9 0 0 0 382.5,320.6 Z" fill="url(#g30)" fill-opacity=".93"/>
<path d="M382.5,329.1 A6,2.9 0 0 0 394.4,329.1 L394.5,320.6 A6,2.9 0 0 0 382.5,320.6 Z" fill="url(#ovD)"/>
<path d="M384.6,331.3 V322.8 M385.7,331.7 V323.1 M386.9,331.9 V323.4 M388.2,332 V323.5 M390,331.9 V323.4" stroke="#fff" stroke-opacity=".3" stroke-width=".6" fill="none"/>
<path d="M382.5,329.1 A6,2.9 0 0 1 394.4,329.1" fill="none" stroke="#9a9aff" stroke-opacity=".35" stroke-width=".6"/>
<ellipse cx="388.5" cy="320.6" rx="5.8" ry="2.7" fill="#0000e6" stroke="#0000b3" stroke-opacity=".55" stroke-width=".6"/>
<path d="M343.2,330.3 A6,2.9 0 0 0 355.2,330.3 L355.1,322.3 A6,2.9 0 0 0 343.1,322.3 Z" fill="url(#g31)" fill-opacity=".93"/>
<path d="M343.2,330.3 A6,2.9 0 0 0 355.2,330.3 L355.1,322.3 A6,2.9 0 0 0 343.1,322.3 Z" fill="url(#ovD)"/>
<path d="M345.4,332.6 V324.5 M346.5,332.9 V324.9 M347.7,333.2 V325.1 M349,333.3 V325.2 M350.8,333.2 V325.1" stroke="#fff" stroke-opacity=".3" stroke-width=".6" fill="none"/>
<path d="M343.2,330.3 A6,2.9 0 0 1 355.2,330.3" fill="none" stroke="#9a9aff" stroke-opacity=".35" stroke-width=".6"/>
<ellipse cx="349.1" cy="322.3" rx="5.8" ry="2.7" fill="#0000dd" stroke="#0000ac" stroke-opacity=".55" stroke-width=".6"/>
<path d="M353.2,334 A6,3 0 0 0 365.2,334 L365.2,331.1 A6,3 0 0 0 353.1,331.1 Z" fill="url(#g32)" fill-opacity=".93"/>
<path d="M353.2,334 A6,3 0 0 0 365.2,334 L365.2,331.1 A6,3 0 0 0 353.1,331.1 Z" fill="url(#ovD)"/>
<path d="M355.3,336.3 V333.4 M356.4,336.7 V333.8 M357.6,336.9 V334 M358.9,337 V334.1 M360.8,336.9 V334" stroke="#fff" stroke-opacity=".3" stroke-width=".6" fill="none"/>
<path d="M353.2,334 A6,3 0 0 1 365.2,334" fill="none" stroke="#9a9aff" stroke-opacity=".35" stroke-width=".6"/>
<ellipse cx="359.2" cy="331.1" rx="5.8" ry="2.8" fill="#000081" stroke="#000064" stroke-opacity=".55" stroke-width=".6"/>
<ellipse cx="369.6" cy="339.1" rx="6.1" ry="3" fill="#000060" fill-opacity=".25" stroke="#000058" stroke-opacity=".75" stroke-width=".7"/>
<path d="M374.6,343.3 A6.1,3.1 0 0 0 386.9,343.3 L387.1,322.3 A6.2,3 0 0 0 374.6,322.3 Z" fill="url(#g33)" fill-opacity=".93"/>
<path d="M374.6,343.3 A6.1,3.1 0 0 0 386.9,343.3 L387.1,322.3 A6.2,3 0 0 0 374.6,322.3 Z" fill="url(#ovC)"/>
<path d="M376.8,345.7 V324.6 M378,346.1 V325 M379.2,346.3 V325.2 M380.5,346.4 V325.3 M382.4,346.3 V325.2" stroke="#fff" stroke-opacity=".3" stroke-width=".6" fill="none"/>
<path d="M374.6,343.3 A6.1,3.1 0 0 1 386.9,343.3" fill="none" stroke="#9a9aff" stroke-opacity=".35" stroke-width=".6"/>
<ellipse cx="380.9" cy="322.3" rx="6" ry="2.8" fill="#ffeded" stroke="#c6b8b8" stroke-opacity=".55" stroke-width=".6"/>
<text x="450.6" y="324.2" font-size="7.6">0.00</text>
<text x="452" y="289.8" font-size="7.6">0.01</text>
<text x="453.5" y="256.1" font-size="7.6">0.02</text>
<text transform="translate(476.8,284.8) rotate(-90)" text-anchor="middle" font-size="8.8">power (a.u.)</text></g>
<g id="pe"><polygon points="503.2,144.5 571.8,109.4 571.7,43.5 500.3,74.6" fill="#f8f8f8" stroke="#d6d6d6" stroke-width=".6"/>
<polygon points="571.8,109.4 649.5,139.5 652.4,70.1 571.7,43.5" fill="#f1f1f1" stroke="#d6d6d6" stroke-width=".6"/>
<polygon points="503.2,144.5 582.4,179.8 649.5,139.5 571.8,109.4" fill="#fafafa" stroke="#d6d6d6" stroke-width=".6"/>
<path d="M508,146.7 L576.5,111.2 L576.5,45.1 M587.1,177 L508,142.1 L505.3,72.4 M521.1,152.5 L589.5,116.2 L589.9,49.5 M599.5,169.5 L520.6,135.7 L518.4,66.7 M534.6,158.5 L602.7,121.4 L603.7,54.1 M611.5,162.3 L532.8,129.4 L531.2,61.2 M548.4,164.6 L616.2,126.6 L617.7,58.7 M623.1,155.3 L544.8,123.3 L543.6,55.7 M562.5,170.9 L630,131.9 L632.1,63.4 M634.5,148.5 L556.4,117.3 L555.6,50.5 M577,177.3 L644.2,137.4 L646.8,68.3 M645.5,141.9 L567.7,111.5 L567.4,45.4 M503.2,144.5 L571.8,109.4 L649.5,139.5 M501.8,110.2 L571.8,77.1 L650.9,105.5 M500.3,74.6 L571.7,43.5 L652.4,70.1" fill="none" stroke="#c6c6c6" stroke-width=".8"/>
<path d="M503.2,144.5 L582.4,179.8 L649.5,139.5 M649.5,139.5 L652.4,70.1 M509.8,145.7 L506.8,147.3 M585,176 L588.4,177.5 M522.9,151.5 L520,153.1 M597.4,168.7 L600.8,170.1 M536.4,157.5 L533.4,159.1 M609.4,161.5 L612.8,162.9 M550.1,163.6 L547.2,165.2 M621.1,154.5 L624.4,155.9 M564.3,169.9 L561.3,171.6 M632.4,147.7 L635.8,149 M578.8,176.3 L575.8,178 M643.5,141.1 L646.8,142.4 M649.5,139.5 L651.7,138.9 M650.9,105.5 L653.1,104.9 M652.4,70.1 L654.6,69.5" fill="none" stroke="#222" stroke-width=".65"/>
<polygon points="512.7,143.4 581.6,173.3 640.2,139 572.4,112.6" fill="#00004d" fill-opacity=".7"/>
<path d="M525.9,150 L585.4,118.4 M525.3,137.7 L594,167.2 M539.3,155.9 L598.6,123.6 M537.6,131.4 L606.1,160.1 M553.1,162 L612.1,128.9 M549.5,125.2 L617.7,153.1 M567.2,168.2 L626,134.3 M561.1,119.2 L629.1,146.4" fill="none" stroke="#14144a" stroke-opacity=".4" stroke-width=".6"/>
<ellipse cx="587.6" cy="131.2" rx="5.7" ry="2.7" fill="#000060" fill-opacity=".25" stroke="#000058" stroke-opacity=".75" stroke-width=".7"/>
<path d="M595.6,128.5 A5.7,2.7 0 0 0 607.1,128.5 L607.5,103.1 A5.8,2.5 0 0 0 595.9,103.1 Z" fill="url(#g34)" fill-opacity=".93"/>
<path d="M595.6,128.5 A5.7,2.7 0 0 0 607.1,128.5 L607.5,103.1 A5.8,2.5 0 0 0 595.9,103.1 Z" fill="url(#ovA)"/>
<path d="M595.6,128.5 A5.7,2.7 0 0 1 607.1,128.5" fill="none" stroke="#9a9aff" stroke-opacity=".35" stroke-width=".6"/>
<ellipse cx="601.7" cy="103.1" rx="5.6" ry="2.3" fill="#800000" stroke="#630000" stroke-opacity=".55" stroke-width=".6"/>
<path d="M592.4,134.7 A5.8,2.7 0 0 0 604,134.7 L604.2,123.8 A5.8,2.7 0 0 0 592.5,123.8 Z" fill="url(#g35)" fill-opacity=".93"/>
<path d="M592.4,134.7 A5.8,2.7 0 0 0 604,134.7 L604.2,123.8 A5.8,2.7 0 0 0 592.5,123.8 Z" fill="url(#ovS)"/>
<path d="M594.5,136.8 V125.8 M595.6,137.1 V126.1 M596.7,137.3 V126.3 M598,137.4 V126.4 M599.7,137.3 V126.3" stroke="#fff" stroke-opacity=".3" stroke-width=".6" fill="none"/>
<path d="M592.4,134.7 A5.8,2.7 0 0 1 604,134.7" fill="none" stroke="#9a9aff" stroke-opacity=".35" stroke-width=".6"/>
<ellipse cx="598.4" cy="123.8" rx="5.6" ry="2.5" fill="#d6d6ff" stroke="#a6a6c6" stroke-opacity=".55" stroke-width=".6"/>
<path d="M554.2,136 A5.8,2.7 0 0 0 565.8,136 L565.8,131.9 A5.8,2.7 0 0 0 554.2,131.9 Z" fill="url(#g36)" fill-opacity=".93"/>
<path d="M554.2,136 A5.8,2.7 0 0 0 565.8,136 L565.8,131.9 A5.8,2.7 0 0 0 554.2,131.9 Z" fill="url(#ovD)"/>
<path d="M556.3,138.1 V134 M557.4,138.4 V134.4 M558.5,138.6 V134.6 M559.8,138.7 V134.7 M561.5,138.6 V134.6" stroke="#fff" stroke-opacity=".3" stroke-width=".6" fill="none"/>
<path d="M554.2,136 A5.8,2.7 0 0 1 565.8,136" fill="none" stroke="#9a9aff" stroke-opacity=".35" stroke-width=".6"/>
<ellipse cx="560" cy="131.9" rx="5.6" ry="2.5" fill="#0000be" stroke="#000094" stroke-opacity=".55" stroke-width=".6"/>
<path d="M568.2,134.8 A5.8,2.7 0 0 0 579.8,134.8 L579.8,115.3 A5.8,2.6 0 0 0 568.2,115.3 Z" fill="url(#g37)" fill-opacity=".93"/>
<path d="M568.2,134.8 A5.8,2.7 0 0 0 579.8,134.8 L579.8,115.3 A5.8,2.6 0 0 0 568.2,115.3 Z" fill="url(#ovB)"/>
<path d="M570.3,136.9 V117.4 M571.4,137.2 V117.7 M572.5,137.4 V117.9 M573.8,137.5 V118 M575.5,137.4 V117.9" stroke="#fff" stroke-opacity=".3" stroke-width=".6" fill="none"/>
<path d="M568.2,134.8 A5.8,2.7 0 0 1 579.8,134.8" fill="none" stroke="#9a9aff" stroke-opacity=".35" stroke-width=".6"/>
<ellipse cx="574" cy="115.3" rx="5.6" ry="2.4" fill="#fb0000" stroke="#c30000" stroke-opacity=".55" stroke-width=".6"/>
<path d="M540.5,136.4 A5.8,2.7 0 0 0 552.1,136.4 L551.9,125.1 A5.8,2.7 0 0 0 540.3,125.1 Z" fill="url(#g38)" fill-opacity=".93"/>
<path d="M540.5,136.4 A5.8,2.7 0 0 0 552.1,136.4 L551.9,125.1 A5.8,2.7 0 0 0 540.3,125.1 Z" fill="url(#ovS)"/>
<path d="M542.6,138.5 V127.1 M543.6,138.8 V127.5 M544.8,139.1 V127.7 M546.1,139.1 V127.8 M547.8,139.1 V127.7" stroke="#fff" stroke-opacity=".3" stroke-width=".6" fill="none"/>
<path d="M540.5,136.4 A5.8,2.7 0 0 1 552.1,136.4" fill="none" stroke="#9a9aff" stroke-opacity=".35" stroke-width=".6"/>
<ellipse cx="546.1" cy="125.1" rx="5.6" ry="2.5" fill="#ffc2c2" stroke="#c69797" stroke-opacity=".55" stroke-width=".6"/>
<path d="M588.7,140.9 A5.9,2.8 0 0 0 600.4,140.9 L600.6,129.1 A5.9,2.7 0 0 0 588.8,129.1 Z" fill="url(#g39)" fill-opacity=".93"/>
<path d="M588.7,140.9 A5.9,2.8 0 0 0 600.4,140.9 L600.6,129.1 A5.9,2.7 0 0 0 588.8,129.1 Z" fill="url(#ovS)"/>
<path d="M590.8,143 V131.2 M591.9,143.3 V131.6 M593.1,143.5 V131.8 M594.4,143.6 V131.9 M596.1,143.5 V131.8" stroke="#fff" stroke-opacity=".3" stroke-width=".6" fill="none"/>
<path d="M588.7,140.9 A5.9,2.8 0 0 1 600.4,140.9" fill="none" stroke="#9a9aff" stroke-opacity=".35" stroke-width=".6"/>
<ellipse cx="594.7" cy="129.1" rx="5.7" ry="2.5" fill="#ffe0e0" stroke="#c6aeae" stroke-opacity=".55" stroke-width=".6"/>
<path d="M526,143.4 A5.9,2.8 0 0 0 537.8,143.4 L537.3,120.7 A6,2.7 0 0 0 525.3,120.7 Z" fill="url(#g40)" fill-opacity=".93"/>
<path d="M526,143.4 A5.9,2.8 0 0 0 537.8,143.4 L537.3,120.7 A6,2.7 0 0 0 525.3,120.7 Z" fill="url(#ovB)"/>
<path d="M528.1,145.5 V122.8 M529.2,145.9 V123.1 M530.3,146.1 V123.3 M531.6,146.2 V123.4 M533.4,146.1 V123.3" stroke="#fff" stroke-opacity=".3" stroke-width=".6" fill="none"/>
<path d="M526,143.4 A5.9,2.8 0 0 1 537.8,143.4" fill="none" stroke="#9a9aff" stroke-opacity=".35" stroke-width=".6"/>
<ellipse cx="531.3" cy="120.7" rx="5.8" ry="2.5" fill="#f50000" stroke="#bf0000" stroke-opacity=".55" stroke-width=".6"/>
<path d="M535.8,146.7 A5.9,2.9 0 0 0 547.7,146.7 L547.5,136.6 A6,2.8 0 0 0 535.6,136.6 Z" fill="url(#g41)" fill-opacity=".93"/>
<path d="M535.8,146.7 A5.9,2.9 0 0 0 547.7,146.7 L547.5,136.6 A6,2.8 0 0 0 535.6,136.6 Z" fill="url(#ovD)"/>
<path d="M538,148.9 V138.8 M539,149.2 V139.1 M540.2,149.4 V139.3 M541.5,149.5 V139.4 M543.3,149.4 V139.3" stroke="#fff" stroke-opacity=".3" stroke-width=".6" fill="none"/>
<path d="M535.8,146.7 A5.9,2.9 0 0 1 547.7,146.7" fill="none" stroke="#9a9aff" stroke-opacity=".35" stroke-width=".6"/>
<ellipse cx="541.6" cy="136.6" rx="5.8" ry="2.6" fill="#8b8bff" stroke="#6c6cc6" stroke-opacity=".55" stroke-width=".6"/>
<path d="M585.3,150 A6,2.9 0 0 0 597.2,150 L597.3,141.1 A6,2.9 0 0 0 585.3,141.1 Z" fill="url(#g42)" fill-opacity=".93"/>
<path d="M585.3,150 A6,2.9 0 0 0 597.2,150 L597.3,141.1 A6,2.9 0 0 0 585.3,141.1 Z" fill="url(#ovD)"/>
<path d="M587.4,152.2 V143.3 M588.5,152.6 V143.6 M589.7,152.8 V143.9 M591,152.9 V144 M592.8,152.8 V143.9" stroke="#fff" stroke-opacity=".3" stroke-width=".6" fill="none"/>
<path d="M585.3,150 A6,2.9 0 0 1 597.2,150" fill="none" stroke="#9a9aff" stroke-opacity=".35" stroke-width=".6"/>
<ellipse cx="591.3" cy="141.1" rx="5.8" ry="2.7" fill="#5c5cff" stroke="#4747c6" stroke-opacity=".55" stroke-width=".6"/>
<path d="M546,151.2 A6,2.9 0 0 0 558,151.2 L557.9,142.3 A6,2.9 0 0 0 545.9,142.3 Z" fill="url(#g43)" fill-opacity=".93"/>
<path d="M546,151.2 A6,2.9 0 0 0 558,151.2 L557.9,142.3 A6,2.9 0 0 0 545.9,142.3 Z" fill="url(#ovD)"/>
<path d="M548.2,153.5 V144.6 M549.3,153.8 V144.9 M550.5,154.1 V145.1 M551.8,154.2 V145.2 M553.6,154.1 V145.1" stroke="#fff" stroke-opacity=".3" stroke-width=".6" fill="none"/>
<path d="M546,151.2 A6,2.9 0 0 1 558,151.2" fill="none" stroke="#9a9aff" stroke-opacity=".35" stroke-width=".6"/>
<ellipse cx="551.9" cy="142.3" rx="5.8" ry="2.7" fill="#5b5bff" stroke="#4646c6" stroke-opacity=".55" stroke-width=".6"/>
<ellipse cx="589.2" cy="154.8" rx="6" ry="3" fill="#000060" fill-opacity=".25" stroke="#000058" stroke-opacity=".75" stroke-width=".7"/>
<path d="M556,154.9 A6,3 0 0 0 568,154.9 L568,149.9 A6,2.9 0 0 0 555.9,149.9 Z" fill="url(#g44)" fill-opacity=".93"/>
<path d="M556,154.9 A6,3 0 0 0 568,154.9 L568,149.9 A6,2.9 0 0 0 555.9,149.9 Z" fill="url(#ovD)"/>
<path d="M558.1,157.2 V152.2 M559.2,157.6 V152.5 M560.4,157.8 V152.7 M561.7,157.9 V152.8 M563.6,157.8 V152.7" stroke="#fff" stroke-opacity=".3" stroke-width=".6" fill="none"/>
<path d="M556,154.9 A6,3 0 0 1 568,154.9" fill="none" stroke="#9a9aff" stroke-opacity=".35" stroke-width=".6"/>
<ellipse cx="561.9" cy="149.9" rx="5.8" ry="2.7" fill="#0000d5" stroke="#0000a6" stroke-opacity=".55" stroke-width=".6"/>
<path d="M566.3,160 A6.1,3 0 0 0 578.5,160 L578.5,158.1 A6.1,3 0 0 0 566.3,158.1 Z" fill="url(#g45)" fill-opacity=".93"/>
<path d="M566.3,160 A6.1,3 0 0 0 578.5,160 L578.5,158.1 A6.1,3 0 0 0 566.3,158.1 Z" fill="url(#ovD)"/>
<path d="M568.5,162.4 V160.4 M569.6,162.7 V160.8 M570.8,163 V161 M572.2,163.1 V161.1 M574,163 V161" stroke="#fff" stroke-opacity=".3" stroke-width=".6" fill="none"/>
<path d="M566.3,160 A6.1,3 0 0 1 578.5,160" fill="none" stroke="#9a9aff" stroke-opacity=".35" stroke-width=".6"/>
<ellipse cx="572.4" cy="158.1" rx="5.9" ry="2.8" fill="#000081" stroke="#000064" stroke-opacity=".55" stroke-width=".6"/>
<path d="M577.4,164.2 A6.1,3.1 0 0 0 589.7,164.2 L589.8,152.6 A6.2,3 0 0 0 577.4,152.6 Z" fill="url(#g46)" fill-opacity=".93"/>
<path d="M577.4,164.2 A6.1,3.1 0 0 0 589.7,164.2 L589.8,152.6 A6.2,3 0 0 0 577.4,152.6 Z" fill="url(#ovD)"/>
<path d="M579.6,166.6 V155 M580.8,167 V155.3 M582,167.2 V155.5 M583.3,167.3 V155.6 M585.2,167.2 V155.5" stroke="#fff" stroke-opacity=".3" stroke-width=".6" fill="none"/>
<path d="M577.4,164.2 A6.1,3.1 0 0 1 589.7,164.2" fill="none" stroke="#9a9aff" stroke-opacity=".35" stroke-width=".6"/>
<ellipse cx="583.6" cy="152.6" rx="6" ry="2.8" fill="#bcbcff" stroke="#9292c6" stroke-opacity=".55" stroke-width=".6"/>
<text x="653.4" y="145.1" font-size="7.6">0.00</text>
<text x="654.8" y="110.7" font-size="7.6">0.01</text>
<text x="656.3" y="77" font-size="7.6">0.02</text>
<text transform="translate(679.6,105.7) rotate(-90)" text-anchor="middle" font-size="8.8">power (a.u.)</text></g>
<g id="pf"><polygon points="503.9,326.3 572.5,291.2 572.4,225.3 501,256.4" fill="#f8f8f8" stroke="#d6d6d6" stroke-width=".6"/>
<polygon points="572.5,291.2 650.2,321.3 653.1,251.9 572.4,225.3" fill="#f1f1f1" stroke="#d6d6d6" stroke-width=".6"/>
<polygon points="503.9,326.3 583.1,361.6 650.2,321.3 572.5,291.2" fill="#fafafa" stroke="#d6d6d6" stroke-width=".6"/>
<path d="M508.7,328.5 L577.2,293 L577.2,226.9 M587.8,358.8 L508.7,323.9 L506,254.2 M521.8,334.3 L590.2,298 L590.6,231.3 M600.2,351.3 L521.3,317.5 L519.1,248.5 M535.3,340.3 L603.4,303.2 L604.4,235.9 M612.2,344.1 L533.5,311.2 L531.9,243 M549.1,346.4 L616.9,308.4 L618.4,240.5 M623.8,337.1 L545.5,305.1 L544.3,237.5 M563.2,352.7 L630.7,313.7 L632.8,245.2 M635.2,330.3 L557.1,299.1 L556.3,232.3 M577.7,359.1 L644.9,319.2 L647.5,250.1 M646.2,323.7 L568.4,293.3 L568.1,227.2 M503.9,326.3 L572.5,291.2 L650.2,321.3 M502.5,292 L572.5,258.9 L651.6,287.3 M501,256.4 L572.4,225.3 L653.1,251.9" fill="none" stroke="#c6c6c6" stroke-width=".8"/>
<path d="M503.9,326.3 L583.1,361.6 L650.2,321.3 M650.2,321.3 L653.1,251.9 M510.5,327.5 L507.5,329.1 M585.7,357.8 L589.1,359.3 M523.6,333.3 L520.7,334.9 M598.1,350.5 L601.5,351.9 M537.1,339.3 L534.1,340.9 M610.1,343.3 L613.5,344.7 M550.8,345.4 L547.9,347 M621.8,336.3 L625.1,337.7 M565,351.7 L562,353.4 M633.1,329.5 L636.5,330.8 M579.5,358.1 L576.5,359.8 M644.2,322.9 L647.5,324.2 M650.2,321.3 L652.4,320.7 M651.6,287.3 L653.8,286.7 M653.1,251.9 L655.3,251.3" fill="none" stroke="#222" stroke-width=".65"/>
<polygon points="513.4,325.2 582.3,355.1 640.9,320.8 573.1,294.4" fill="#00004d" fill-opacity=".7"/>
<path d="M526.6,331.8 L586.1,300.2 M526,319.5 L594.7,349 M540,337.7 L599.3,305.4 M538.3,313.2 L606.8,341.9 M553.8,343.8 L612.8,310.7 M550.2,307 L618.4,334.9 M567.9,350 L626.7,316.1 M561.8,301 L629.8,328.2" fill="none" stroke="#14144a" stroke-opacity=".4" stroke-width=".6"/>
<path d="M596.3,310.3 A5.7,2.7 0 0 0 607.8,310.3 L608,295.5 A5.8,2.6 0 0 0 596.5,295.5 Z" fill="url(#g47)" fill-opacity=".93"/>
<path d="M596.3,310.3 A5.7,2.7 0 0 0 607.8,310.3 L608,295.5 A5.8,2.6 0 0 0 596.5,295.5 Z" fill="url(#ovB)"/>
<path d="M598.4,312.4 V297.5 M599.4,312.7 V297.8 M600.6,312.9 V298 M601.8,313 V298.1 M603.5,312.9 V298" stroke="#fff" stroke-opacity=".3" stroke-width=".6" fill="none"/>
<path d="M596.3,310.3 A5.7,2.7 0 0 1 607.8,310.3" fill="none" stroke="#9a9aff" stroke-opacity=".35" stroke-width=".6"/>
<ellipse cx="602.3" cy="295.5" rx="5.6" ry="2.4" fill="#fa0000" stroke="#c30000" stroke-opacity=".55" stroke-width=".6"/>
<path d="M582.6,313 A5.7,2.7 0 0 0 594.1,313 L594.1,310.4 A5.7,2.7 0 0 0 582.6,310.4 Z" fill="url(#g48)" fill-opacity=".93"/>
<path d="M582.6,313 A5.7,2.7 0 0 0 594.1,313 L594.1,310.4 A5.7,2.7 0 0 0 582.6,310.4 Z" fill="url(#ovD)"/>
<path d="M584.7,315.1 V312.5 M585.7,315.4 V312.8 M586.8,315.6 V313 M588.1,315.7 V313.1 M589.8,315.6 V313" stroke="#fff" stroke-opacity=".3" stroke-width=".6" fill="none"/>
<path d="M582.6,313 A5.7,2.7 0 0 1 594.1,313" fill="none" stroke="#9a9aff" stroke-opacity=".35" stroke-width=".6"/>
<ellipse cx="588.4" cy="310.4" rx="5.5" ry="2.5" fill="#00009f" stroke="#00007c" stroke-opacity=".55" stroke-width=".6"/>
<path d="M593.1,316.5 A5.8,2.7 0 0 0 604.7,316.5 L604.8,309.5 A5.8,2.7 0 0 0 593.2,309.5 Z" fill="url(#g49)" fill-opacity=".93"/>
<path d="M593.1,316.5 A5.8,2.7 0 0 0 604.7,316.5 L604.8,309.5 A5.8,2.7 0 0 0 593.2,309.5 Z" fill="url(#ovD)"/>
<path d="M595.2,318.6 V311.6 M596.3,318.9 V311.9 M597.4,319.1 V312.1 M598.7,319.2 V312.2 M600.4,319.1 V312.1" stroke="#fff" stroke-opacity=".3" stroke-width=".6" fill="none"/>
<path d="M593.1,316.5 A5.8,2.7 0 0 1 604.7,316.5" fill="none" stroke="#9a9aff" stroke-opacity=".35" stroke-width=".6"/>
<ellipse cx="599" cy="309.5" rx="5.6" ry="2.5" fill="#9999ff" stroke="#7777c6" stroke-opacity=".55" stroke-width=".6"/>
<path d="M554.9,317.8 A5.8,2.7 0 0 0 566.5,317.8 L566.5,313.9 A5.8,2.7 0 0 0 554.9,313.9 Z" fill="url(#g50)" fill-opacity=".93"/>
<path d="M554.9,317.8 A5.8,2.7 0 0 0 566.5,317.8 L566.5,313.9 A5.8,2.7 0 0 0 554.9,313.9 Z" fill="url(#ovD)"/>
<path d="M557,319.9 V316 M558.1,320.2 V316.4 M559.2,320.4 V316.6 M560.5,320.5 V316.7 M562.2,320.4 V316.6" stroke="#fff" stroke-opacity=".3" stroke-width=".6" fill="none"/>
<path d="M554.9,317.8 A5.8,2.7 0 0 1 566.5,317.8" fill="none" stroke="#9a9aff" stroke-opacity=".35" stroke-width=".6"/>
<ellipse cx="560.7" cy="313.9" rx="5.6" ry="2.5" fill="#0000c6" stroke="#00009a" stroke-opacity=".55" stroke-width=".6"/>
<path d="M568.9,316.6 A5.8,2.7 0 0 0 580.5,316.6 L580.5,297.9 A5.8,2.6 0 0 0 568.9,297.9 Z" fill="url(#g51)" fill-opacity=".93"/>
<path d="M568.9,316.6 A5.8,2.7 0 0 0 580.5,316.6 L580.5,297.9 A5.8,2.6 0 0 0 568.9,297.9 Z" fill="url(#ovB)"/>
<path d="M571,318.7 V300 M572.1,319 V300.3 M573.2,319.2 V300.5 M574.5,319.3 V300.6 M576.2,319.2 V300.5" stroke="#fff" stroke-opacity=".3" stroke-width=".6" fill="none"/>
<path d="M568.9,316.6 A5.8,2.7 0 0 1 580.5,316.6" fill="none" stroke="#9a9aff" stroke-opacity=".35" stroke-width=".6"/>
<ellipse cx="574.7" cy="297.9" rx="5.6" ry="2.4" fill="#f00000" stroke="#bb0000" stroke-opacity=".55" stroke-width=".6"/>
<path d="M541.2,318.2 A5.8,2.7 0 0 0 552.8,318.2 L552.6,307.4 A5.8,2.7 0 0 0 541,307.4 Z" fill="url(#g52)" fill-opacity=".93"/>
<path d="M541.2,318.2 A5.8,2.7 0 0 0 552.8,318.2 L552.6,307.4 A5.8,2.7 0 0 0 541,307.4 Z" fill="url(#ovS)"/>
<path d="M543.3,320.3 V309.4 M544.3,320.6 V309.8 M545.5,320.9 V310 M546.8,320.9 V310.1 M548.5,320.9 V310" stroke="#fff" stroke-opacity=".3" stroke-width=".6" fill="none"/>
<path d="M541.2,318.2 A5.8,2.7 0 0 1 552.8,318.2" fill="none" stroke="#9a9aff" stroke-opacity=".35" stroke-width=".6"/>
<ellipse cx="546.8" cy="307.4" rx="5.6" ry="2.5" fill="#ffadad" stroke="#c68686" stroke-opacity=".55" stroke-width=".6"/>
<path d="M589.4,322.7 A5.9,2.8 0 0 0 601.1,322.7 L601.2,320.7 A5.9,2.8 0 0 0 589.4,320.7 Z" fill="url(#g53)" fill-opacity=".93"/>
<path d="M589.4,322.7 A5.9,2.8 0 0 0 601.1,322.7 L601.2,320.7 A5.9,2.8 0 0 0 589.4,320.7 Z" fill="url(#ovD)"/>
<path d="M591.5,324.8 V322.9 M592.6,325.1 V323.2 M593.8,325.3 V323.4 M595.1,325.4 V323.5 M596.8,325.3 V323.4" stroke="#fff" stroke-opacity=".3" stroke-width=".6" fill="none"/>
<path d="M589.4,322.7 A5.9,2.8 0 0 1 601.1,322.7" fill="none" stroke="#9a9aff" stroke-opacity=".35" stroke-width=".6"/>
<ellipse cx="595.3" cy="320.7" rx="5.7" ry="2.6" fill="#000089" stroke="#00006a" stroke-opacity=".55" stroke-width=".6"/>
<path d="M526.7,325.2 A5.9,2.8 0 0 0 538.5,325.2 L538,302.1 A6,2.7 0 0 0 526,302.1 Z" fill="url(#g54)" fill-opacity=".93"/>
<path d="M526.7,325.2 A5.9,2.8 0 0 0 538.5,325.2 L538,302.1 A6,2.7 0 0 0 526,302.1 Z" fill="url(#ovA)"/>
<path d="M526.7,325.2 A5.9,2.8 0 0 1 538.5,325.2" fill="none" stroke="#9a9aff" stroke-opacity=".35" stroke-width=".6"/>
<ellipse cx="532" cy="302.1" rx="5.8" ry="2.5" fill="#800000" stroke="#630000" stroke-opacity=".55" stroke-width=".6"/>
<path d="M536.5,328.5 A5.9,2.9 0 0 0 548.4,328.5 L548.2,317 A6,2.8 0 0 0 536.3,317 Z" fill="url(#g55)" fill-opacity=".93"/>
<path d="M536.5,328.5 A5.9,2.9 0 0 0 548.4,328.5 L548.2,317 A6,2.8 0 0 0 536.3,317 Z" fill="url(#ovS)"/>
<path d="M538.7,330.7 V319.2 M539.7,331 V319.5 M540.9,331.2 V319.7 M542.2,331.3 V319.8 M544,331.2 V319.7" stroke="#fff" stroke-opacity=".3" stroke-width=".6" fill="none"/>
<path d="M536.5,328.5 A5.9,2.9 0 0 1 548.4,328.5" fill="none" stroke="#9a9aff" stroke-opacity=".35" stroke-width=".6"/>
<ellipse cx="542.2" cy="317" rx="5.8" ry="2.6" fill="#ffe0e0" stroke="#c6aeae" stroke-opacity=".55" stroke-width=".6"/>
<path d="M586,331.8 A6,2.9 0 0 0 597.9,331.8 L598,326.2 A6,2.9 0 0 0 586,326.2 Z" fill="url(#g56)" fill-opacity=".93"/>
<path d="M586,331.8 A6,2.9 0 0 0 597.9,331.8 L598,326.2 A6,2.9 0 0 0 586,326.2 Z" fill="url(#ovD)"/>
<path d="M588.1,334 V328.4 M589.2,334.4 V328.8 M590.4,334.6 V329 M591.7,334.7 V329.1 M593.5,334.6 V329" stroke="#fff" stroke-opacity=".3" stroke-width=".6" fill="none"/>
<path d="M586,331.8 A6,2.9 0 0 1 597.9,331.8" fill="none" stroke="#9a9aff" stroke-opacity=".35" stroke-width=".6"/>
<ellipse cx="592" cy="326.2" rx="5.8" ry="2.7" fill="#0000f9" stroke="#0000c2" stroke-opacity=".55" stroke-width=".6"/>
<path d="M546.7,333 A6,2.9 0 0 0 558.7,333 L558.6,319.6 A6,2.9 0 0 0 546.5,319.6 Z" fill="url(#g57)" fill-opacity=".93"/>
<path d="M546.7,333 A6,2.9 0 0 0 558.7,333 L558.6,319.6 A6,2.9 0 0 0 546.5,319.6 Z" fill="url(#ovS)"/>
<path d="M548.9,335.3 V321.8 M550,335.6 V322.1 M551.2,335.9 V322.3 M552.5,336 V322.4 M554.3,335.9 V322.3" stroke="#fff" stroke-opacity=".3" stroke-width=".6" fill="none"/>
<path d="M546.7,333 A6,2.9 0 0 1 558.7,333" fill="none" stroke="#9a9aff" stroke-opacity=".35" stroke-width=".6"/>
<ellipse cx="552.5" cy="319.6" rx="5.8" ry="2.7" fill="#ffaeae" stroke="#c68787" stroke-opacity=".55" stroke-width=".6"/>
<path d="M556.7,336.7 A6,3 0 0 0 568.7,336.7 L568.7,333.4 A6,2.9 0 0 0 556.6,333.4 Z" fill="url(#g58)" fill-opacity=".93"/>
<path d="M556.7,336.7 A6,3 0 0 0 568.7,336.7 L568.7,333.4 A6,2.9 0 0 0 556.6,333.4 Z" fill="url(#ovD)"/>
<path d="M558.8,339 V335.7 M559.9,339.4 V336.1 M561.1,339.6 V336.3 M562.4,339.7 V336.4 M564.3,339.6 V336.3" stroke="#fff" stroke-opacity=".3" stroke-width=".6" fill="none"/>
<path d="M556.7,336.7 A6,3 0 0 1 568.7,336.7" fill="none" stroke="#9a9aff" stroke-opacity=".35" stroke-width=".6"/>
<ellipse cx="562.7" cy="333.4" rx="5.8" ry="2.7" fill="#0000b1" stroke="#00008a" stroke-opacity=".55" stroke-width=".6"/>
<path d="M578.1,346 A6.1,3.1 0 0 0 590.4,346 L590.5,339.2 A6.2,3 0 0 0 578.1,339.2 Z" fill="url(#g59)" fill-opacity=".93"/>
<path d="M578.1,346 A6.1,3.1 0 0 0 590.4,346 L590.5,339.2 A6.2,3 0 0 0 578.1,339.2 Z" fill="url(#ovD)"/>
<path d="M580.3,348.4 V341.5 M581.5,348.8 V341.9 M582.7,349 V342.1 M584,349.1 V342.2 M585.9,349 V342.1" stroke="#fff" stroke-opacity=".3" stroke-width=".6" fill="none"/>
<path d="M578.1,346 A6.1,3.1 0 0 1 590.4,346" fill="none" stroke="#9a9aff" stroke-opacity=".35" stroke-width=".6"/>
<ellipse cx="584.3" cy="339.2" rx="6" ry="2.8" fill="#2929ff" stroke="#1f1fc6" stroke-opacity=".55" stroke-width=".6"/>
<text x="654.1" y="326.9" font-size="7.6">0.00</text>
<text x="655.5" y="292.5" font-size="7.6">0.01</text>
<text x="657" y="258.8" font-size="7.6">0.02</text>
<text transform="translate(680.3,287.5) rotate(-90)" text-anchor="middle" font-size="8.8">power (a.u.)</text></g>
<g id="pa"><rect x="37.7" y="23.7" width="230.90000000000003" height="170.5" fill="#fff"/>
<path d="M40.7,23.7 V194.2 M80.6,23.7 V194.2 M120.6,23.7 V194.2 M160.5,23.7 V194.2 M200.5,23.7 V194.2 M240.4,23.7 V194.2 M37.7,187 H268.6 M37.7,147.9 H268.6 M37.7,108.9 H268.6 M37.7,69.9 H268.6 M37.7,30.8 H268.6" stroke="#b0b0b0" stroke-opacity=".55" stroke-width=".8" fill="none"/>
<clipPath id="ca"><rect x="37.7" y="23.7" width="230.90000000000003" height="170.5"/></clipPath>
<g clip-path="url(#ca)" fill="none" stroke-width="1" stroke-linejoin="round">
<path d="M96.7,23.6 98.2,24.0 99.7,24.3 101.1,24.7 102.6,25.0 104.1,25.4 105.5,25.7 107.0,26.0 108.4,26.3 109.9,26.6 111.3,26.9 112.8,27.2 114.2,27.4 115.7,27.7 117.1,27.9 118.6,28.1 120.1,28.3 121.6,28.5 123.1,28.6 124.7,28.7 126.2,28.9 127.8,29.0 129.3,29.1 130.9,29.3 132.4,29.5 133.8,29.9 135.2,30.3 136.5,30.9 137.8,31.6 138.6,32.5 138.0,33.4 136.6,34.3 135.0,34.9 133.5,35.2 132.1,35.5 130.5,36.0 128.8,36.7 127.4,37.7 126.6,38.6 126.8,39.3 127.8,40.0 129.2,40.5 130.8,40.9 132.3,41.3 133.9,41.7 135.4,42.1 136.9,42.4 138.4,42.8 139.8,43.1 141.3,43.4 142.7,43.7 144.2,43.9 145.6,44.2 147.0,44.4 148.5,44.7 149.9,44.9 151.4,45.2 152.9,45.4 154.4,45.7 155.9,45.9 157.5,46.2 159.0,46.5 160.5,46.8 162.0,47.2 163.5,47.7 164.6,48.3 164.6,49.2 163.5,50.2 162.1,50.9 160.6,51.5 159.1,51.8 157.6,52.0 156.1,52.1 154.5,52.2 153.0,52.4 151.5,52.6 150.0,52.8 148.6,53.0 147.1,53.2 145.7,53.4 144.3,53.6 142.8,53.9 141.4,54.3 139.8,54.8 138.2,55.6 136.9,56.6 136.3,57.7 136.8,58.9 138.0,60.1 139.2,61.2 140.0,62.3 139.8,63.5 138.9,64.2 137.4,64.7 135.6,65.0 133.8,65.3 132.1,65.6 130.6,65.9 129.1,66.2 127.7,66.5 126.3,66.8 125.0,67.0 123.6,67.3 122.3,67.4 120.8,67.6 119.4,67.8 117.9,68.1 116.4,68.6 114.7,69.2 113.2,70.1 112.0,71.1 111.6,72.2 112.1,73.4 113.1,74.6 114.4,75.6 115.7,76.5 117.0,77.3 118.4,78.0 119.7,78.7 121.1,79.2 122.5,79.8 123.9,80.3 125.3,80.8 126.7,81.3 128.1,81.8 129.6,82.2 131.0,82.6 132.4,83.0 133.9,83.4 135.3,83.8 136.8,84.1 138.2,84.5 139.7,84.8 141.2,85.1 142.6,85.4 144.1,85.8 145.6,86.1 147.0,86.4 148.5,86.7 150.0,87.0 151.4,87.3 152.9,87.6 154.4,88.0 155.8,88.3 157.3,88.6 158.8,88.9 160.2,89.2 161.7,89.5 163.2,89.8 164.7,90.1 166.1,90.5 167.6,90.8 169.1,91.1 170.5,91.4 172.0,91.7 173.5,92.0 174.9,92.3 176.4,92.6 177.9,92.9 179.3,93.2 180.8,93.5 182.3,93.8 183.8,94.1 185.2,94.4 186.7,94.7 188.2,94.9 189.6,95.2 191.1,95.5 192.6,95.8 194.1,96.1 195.5,96.3 197.0,96.6 198.5,96.9 200.0,97.2 201.4,97.4 202.9,97.7 204.4,97.9 205.9,98.2 207.3,98.5 208.8,98.7 210.3,99.0 211.8,99.2 213.3,99.4 214.7,99.7 216.2,99.9 217.7,100.1 219.2,100.4 220.7,100.6 222.1,100.8 223.6,101.1 225.1,101.3 226.6,101.5 228.1,101.8 229.5,102.0 231.0,102.3 232.5,102.5 234.0,102.7 235.5,103.0 236.9,103.3 238.4,103.5 239.9,103.8 241.4,104.0 242.9,104.3 244.3,104.6 245.8,104.9 247.3,105.2 248.8,105.5 250.2,105.8 251.7,106.2 253.2,106.7 254.6,107.3 255.9,108.2 256.2,109.1 255.3,110.0 253.9,110.7 252.5,111.3 251.0,111.8 249.6,112.2 248.1,112.6 246.6,113.0 245.1,113.3 243.6,113.5 242.1,113.7 240.7,114.0 239.2,114.2 237.7,114.4 236.2,114.6 234.7,114.8 233.3,115.0 231.8,115.3 230.3,115.5 228.8,115.7 227.4,116.0 225.9,116.2 224.4,116.4 222.9,116.7 221.4,116.9 220.0,117.2 218.5,117.4 217.0,117.7 215.5,118.0 214.1,118.2 212.6,118.5 211.1,118.7 209.6,119.0 208.2,119.3 206.7,119.5 205.2,119.8 203.7,120.1 202.3,120.3 200.8,120.6 199.3,120.9 197.8,121.2 196.3,121.4 194.9,121.7 193.4,122.0 191.9,122.3 190.4,122.5 189.0,122.8 187.5,123.1 186.0,123.4 184.5,123.6 183.1,123.9 181.6,124.2 180.1,124.5 178.6,124.8 177.2,125.1 175.7,125.3 174.2,125.6 172.8,125.9 171.3,126.2 169.8,126.5 168.3,126.8 166.9,127.1 165.4,127.4 163.9,127.7 162.5,128.0 161.0,128.3 159.5,128.6 158.1,128.9 156.6,129.2 155.1,129.6 153.7,129.9 152.2,130.2 150.7,130.5 149.3,130.9 147.8,131.2 146.4,131.5 144.9,131.9 143.4,132.2 142.0,132.6 140.5,132.9 139.1,133.3 137.6,133.6 136.2,134.0 134.7,134.3 133.3,134.7 131.8,135.1 130.4,135.5 128.9,135.8 127.5,136.3 126.0,136.7 124.6,137.1 123.2,137.6 121.8,138.2 120.4,138.8 119.1,139.4 117.7,140.1 116.4,140.9 115.1,141.8 113.8,142.8 112.6,143.8 111.8,144.9 111.7,146.0 112.5,147.1 113.9,148.1 115.5,148.9 117.1,149.5 118.6,149.9 120.1,150.1 121.5,150.3 122.9,150.5 124.3,150.6 125.6,150.9 127.0,151.1 128.4,151.5 129.8,151.8 131.3,152.1 132.9,152.4 134.7,152.6 136.5,152.9 138.1,153.3 139.4,153.9 140.0,154.9 139.7,156.0 138.7,157.1 137.4,158.3 136.5,159.4 136.5,160.6 137.4,161.7 138.9,162.6 140.5,163.3 142.1,163.7 143.5,164.1 145.0,164.3 146.4,164.5 147.8,164.7 149.3,164.9 150.7,165.1 152.2,165.3 153.7,165.5 155.3,165.6 156.8,165.7 158.3,165.9 159.8,166.1 161.3,166.5 162.8,167.2 164.2,168.1 164.8,169.1 164.1,169.8 162.7,170.3 161.2,170.7 159.7,171.0 158.2,171.4 156.7,171.7 155.2,171.9 153.8,172.2 152.3,172.4 150.8,172.7 149.3,173.0 147.8,173.2 146.4,173.5 144.9,173.8 143.4,174.2 141.9,174.5 140.5,174.8 139.0,175.1 137.6,175.3 136.2,175.5 134.8,175.7 133.4,176.0 131.8,176.3 130.2,176.8 128.4,177.3 127.0,178.0 126.5,178.9 126.9,179.8 128.1,180.7 129.7,181.4 131.3,182.0 132.7,182.3 134.2,182.7 135.7,183.2 137.3,183.9 138.4,184.8 138.3,185.8 137.2,186.6 136.0,187.2 134.6,187.7 133.2,188.1 131.7,188.4 130.1,188.6 128.6,188.8 127.0,188.9 125.4,189.0 123.9,189.1 122.4,189.3 120.9,189.4 119.4,189.6 118.0,189.8 116.6,190.0 115.1,190.2 113.6,190.5 112.2,190.7 110.7,191.0 109.2,191.3 107.7,191.6 106.2,192.0 104.8,192.3 103.3,192.6 101.8,193.0 100.3,193.3 98.9,193.7 97.5,194.0 96.7,194.2" stroke="#1f77b4"/>
<path d="M137.1,23.6 135.6,23.9 134.1,24.1 132.6,24.4 131.1,24.6 129.6,24.9 128.2,25.1 126.7,25.3 125.3,25.5 123.8,25.8 122.4,26.0 120.9,26.3 119.5,26.6 118.0,26.9 116.5,27.3 115.0,27.7 113.5,28.2 112.0,28.7 110.5,29.2 109.0,29.8 107.9,30.6 107.6,31.6 108.2,32.8 109.4,33.8 110.8,34.6 112.3,35.1 113.8,35.4 115.3,35.6 116.9,35.9 118.4,36.1 119.9,36.3 121.4,36.6 122.8,36.8 124.3,37.0 125.7,37.3 127.2,37.5 128.6,37.7 130.1,38.0 131.5,38.2 133.0,38.5 134.4,38.8 135.9,39.1 137.4,39.4 138.9,39.7 140.4,40.0 141.9,40.3 143.5,40.7 145.1,41.0 146.6,41.5 147.9,42.1 148.7,43.1 148.7,44.2 147.7,45.1 146.2,45.7 144.7,46.1 143.1,46.4 141.5,46.9 140.1,47.6 139.4,48.6 139.8,49.9 140.8,50.9 142.1,51.6 143.6,52.0 145.2,52.3 146.8,52.6 148.3,52.9 149.8,53.2 151.3,53.5 152.8,53.8 154.2,54.1 155.7,54.4 157.2,54.6 158.6,54.9 160.1,55.1 161.5,55.3 163.0,55.5 164.4,55.7 165.9,55.9 167.3,56.1 168.8,56.3 170.2,56.5 171.7,56.8 173.2,57.0 174.7,57.3 176.2,57.5 177.7,57.8 179.2,58.1 180.7,58.5 182.3,58.9 183.9,59.3 185.4,59.7 186.9,60.2 188.0,60.9 188.1,61.8 187.2,62.9 186.0,63.9 184.7,64.8 183.3,65.6 182.0,66.3 180.6,66.9 179.2,67.3 177.8,67.8 176.4,68.2 174.9,68.6 173.5,69.1 172.0,69.5 170.5,69.9 169.1,70.3 167.6,70.7 166.1,71.1 164.7,71.4 163.3,71.8 161.8,72.1 160.4,72.4 158.9,72.7 157.5,73.0 156.1,73.3 154.6,73.6 153.2,73.9 151.7,74.2 150.2,74.5 148.7,74.8 147.2,75.1 145.7,75.5 144.2,75.8 142.6,76.2 141.1,76.6 139.7,77.2 138.5,78.0 137.7,79.1 137.6,80.2 138.5,81.3 139.9,82.3 141.3,83.0 142.7,83.7 144.1,84.2 145.6,84.7 147.0,85.1 148.4,85.5 149.9,85.9 151.3,86.2 152.8,86.6 154.2,86.9 155.7,87.2 157.2,87.5 158.6,87.8 160.1,88.1 161.6,88.4 163.0,88.7 164.5,88.9 166.0,89.2 167.5,89.4 169.0,89.7 170.4,89.9 171.9,90.1 173.4,90.4 174.9,90.6 176.4,90.8 177.9,91.0 179.3,91.3 180.8,91.5 182.3,91.7 183.8,91.9 185.3,92.1 186.8,92.3 188.3,92.5 189.7,92.7 191.2,92.9 192.7,93.1 194.2,93.3 195.7,93.5 197.2,93.7 198.7,93.9 200.2,94.1 201.7,94.3 203.1,94.5 204.6,94.6 206.1,94.8 207.6,95.0 209.1,95.2 210.6,95.4 212.1,95.6 213.6,95.8 215.0,95.9 216.5,96.1 218.0,96.3 219.5,96.5 221.0,96.7 222.5,96.9 224.0,97.1 225.5,97.3 226.9,97.5 228.4,97.7 229.9,97.8 231.4,98.0 232.9,98.2 234.4,98.4 235.9,98.6 237.3,98.8 238.8,99.1 240.3,99.3 241.8,99.5 243.3,99.7 244.8,99.9 246.2,100.1 247.7,100.4 249.2,100.6 250.7,100.8 252.2,101.1 253.6,101.6 255.1,102.2 256.6,103.0 257.5,104.0 257.3,105.1 256.1,106.1 254.7,107.2 253.6,108.2 253.4,109.3 254.3,110.3 255.8,111.4 257.0,112.4 257.5,113.5 256.9,114.5 255.5,115.4 254.0,116.1 252.5,116.6 251.1,116.9 249.6,117.2 248.1,117.4 246.6,117.6 245.2,117.8 243.7,118.0 242.2,118.2 240.7,118.4 239.2,118.7 237.7,118.9 236.3,119.1 234.8,119.3 233.3,119.5 231.8,119.7 230.3,119.9 228.8,120.0 227.3,120.2 225.8,120.4 224.4,120.6 222.9,120.8 221.4,121.0 219.9,121.2 218.4,121.4 216.9,121.6 215.4,121.8 213.9,122.0 212.5,122.2 211.0,122.4 209.5,122.6 208.0,122.8 206.5,123.0 205.0,123.1 203.5,123.3 202.0,123.5 200.5,123.7 199.1,123.9 197.6,124.1 196.1,124.3 194.6,124.5 193.1,124.7 191.6,124.9 190.1,125.1 188.6,125.3 187.2,125.5 185.7,125.7 184.2,125.9 182.7,126.1 181.2,126.3 179.7,126.5 178.3,126.8 176.8,127.0 175.3,127.2 173.8,127.4 172.3,127.6 170.8,127.8 169.4,128.0 167.9,128.3 166.4,128.5 164.9,128.7 163.4,129.0 162.0,129.2 160.5,129.5 159.0,129.7 157.5,130.0 156.1,130.3 154.6,130.7 153.2,131.0 151.7,131.4 150.2,131.8 148.8,132.2 147.4,132.7 145.9,133.2 144.5,133.7 143.1,134.3 141.7,134.9 140.3,135.6 138.9,136.3 137.8,137.2 137.5,138.3 138.3,139.5 139.4,140.5 140.7,141.2 142.2,141.6 143.7,141.9 145.3,142.3 146.8,142.6 148.3,142.9 149.8,143.2 151.3,143.5 152.8,143.8 154.2,144.1 155.7,144.4 157.2,144.7 158.6,145.0 160.1,145.3 161.5,145.7 163.0,146.0 164.4,146.3 165.9,146.7 167.3,147.0 168.7,147.4 170.2,147.8 171.6,148.2 173.1,148.6 174.5,149.0 175.9,149.4 177.4,149.9 178.8,150.4 180.2,150.9 181.6,151.4 183.0,152.0 184.3,152.7 185.6,153.6 187.0,154.6 188.0,155.7 188.2,156.7 187.3,157.4 185.8,158.0 184.2,158.5 182.6,159.0 181.0,159.3 179.5,159.6 178.0,159.9 176.5,160.2 175.0,160.4 173.6,160.7 172.1,160.9 170.7,161.1 169.2,161.3 167.8,161.6 166.3,161.8 164.9,162.0 163.5,162.2 162.0,162.4 160.6,162.6 159.1,162.8 157.7,163.1 156.2,163.3 154.7,163.6 153.2,163.9 151.7,164.1 150.1,164.5 148.6,164.8 147.0,165.1 145.4,165.5 143.7,165.9 142.2,166.4 140.9,167.0 140.0,167.7 139.7,168.6 140.1,169.7 141.1,170.8 142.5,171.5 144.1,171.8 145.8,172.1 147.3,172.6 148.4,173.5 148.8,174.4 148.3,175.3 147.0,176.0 145.4,176.6 143.7,177.1 142.1,177.6 140.6,177.9 139.1,178.2 137.7,178.5 136.3,178.7 134.9,178.9 133.5,179.1 132.1,179.4 130.6,179.6 129.1,179.9 127.7,180.1 126.2,180.4 124.7,180.7 123.2,180.9 121.7,181.2 120.2,181.4 118.6,181.7 117.1,181.9 115.6,182.2 114.2,182.4 112.7,182.7 111.3,183.1 109.9,183.8 108.6,184.7 107.6,185.8 107.6,186.9 108.6,187.9 110.2,188.7 111.8,189.3 113.3,189.7 114.7,190.1 116.2,190.4 117.6,190.6 119.0,190.9 120.4,191.2 121.9,191.5 123.4,191.8 124.8,192.1 126.3,192.4 127.8,192.7 129.3,193.0 130.8,193.3 132.3,193.5 133.8,193.8 135.3,194.0 136.7,194.2 137.1,194.2" stroke="#ff7f0e"/>
<path d="M143.9,23.6 145.5,24.3 147.0,24.9 148.4,25.5 149.7,25.9 151.0,26.4 152.3,26.9 153.6,27.3 154.9,27.8 156.3,28.4 157.7,29.0 159.3,29.8 160.8,30.6 161.8,31.7 161.7,32.9 160.6,34.1 159.3,35.1 157.9,35.7 156.5,36.1 155.0,36.4 153.5,36.7 152.0,37.0 150.5,37.3 149.0,37.7 147.6,38.0 146.2,38.3 144.8,38.6 143.5,38.8 142.2,39.1 140.8,39.3 139.4,39.6 137.8,39.9 136.0,40.2 134.0,40.6 132.4,41.1 131.8,41.9 132.6,42.8 133.9,43.6 135.3,44.3 136.8,44.7 138.2,45.1 139.8,45.3 141.3,45.6 142.8,45.9 144.3,46.2 145.7,46.7 147.0,47.3 148.3,48.1 149.3,49.1 150.2,50.3 150.8,51.6 151.2,53.1 151.6,54.7 152.2,56.0 153.1,56.9 154.3,57.7 155.7,58.2 157.2,58.6 158.8,59.0 160.3,59.3 161.9,59.6 163.4,59.9 164.9,60.2 166.4,60.4 167.9,60.7 169.3,60.9 170.8,61.2 172.3,61.4 173.7,61.6 175.2,61.8 176.7,62.0 178.1,62.2 179.6,62.4 181.1,62.6 182.5,62.8 184.0,63.0 185.5,63.3 187.0,63.5 188.5,63.7 190.0,63.9 191.5,64.2 193.0,64.4 194.4,64.7 195.9,65.0 197.4,65.3 198.9,65.6 200.3,65.9 201.8,66.3 203.3,66.6 204.7,66.9 206.2,67.2 207.6,67.5 209.1,67.8 210.6,68.0 212.1,68.2 213.6,68.4 215.1,68.7 216.5,69.1 218.0,69.6 219.4,70.4 220.6,71.4 220.6,72.3 219.4,72.9 217.8,73.4 216.2,73.8 214.7,74.1 213.1,74.3 211.6,74.5 210.1,74.7 208.5,74.9 207.1,75.0 205.6,75.2 204.1,75.4 202.7,75.6 201.2,75.8 199.8,75.9 198.3,76.1 196.9,76.3 195.4,76.5 194.0,76.7 192.5,76.9 191.1,77.2 189.6,77.4 188.2,77.6 186.7,77.9 185.2,78.1 183.7,78.4 182.2,78.7 180.7,79.0 179.1,79.3 177.5,79.6 176.0,80.0 174.3,80.3 172.7,80.7 171.1,81.1 169.9,81.6 169.3,82.3 169.6,83.3 170.6,84.4 171.9,85.3 173.3,86.0 174.7,86.6 176.2,87.0 177.7,87.3 179.3,87.6 180.8,87.9 182.3,88.2 183.8,88.5 185.2,88.7 186.7,89.0 188.2,89.2 189.6,89.4 191.1,89.6 192.5,89.8 194.0,90.0 195.4,90.2 196.9,90.4 198.4,90.6 199.8,90.8 201.3,91.0 202.8,91.2 204.3,91.3 205.8,91.5 207.3,91.7 208.9,91.9 210.4,92.0 211.9,92.2 213.5,92.4 215.0,92.6 216.5,92.7 218.0,92.9 219.6,93.1 221.1,93.2 222.6,93.4 224.0,93.6 225.5,93.7 226.9,93.9 228.4,94.0 229.8,94.2 231.1,94.4 232.5,94.5 233.8,94.7 235.2,94.8 236.6,95.0 238.0,95.2 239.6,95.5 241.2,95.8 243.0,96.1 244.9,96.5 246.9,97.0 248.5,97.5 249.5,98.0 249.6,98.5 248.6,99.0 247.1,99.4 245.5,99.8 244.0,100.2 242.4,100.5 240.8,100.7 239.3,101.0 237.8,101.2 236.3,101.4 234.8,101.5 233.3,101.7 231.8,101.8 230.4,102.0 228.9,102.1 227.5,102.3 226.0,102.5 224.6,102.6 223.2,102.9 221.8,103.1 220.4,103.4 218.9,103.6 217.4,104.0 215.9,104.3 214.3,104.6 212.6,105.0 211.0,105.4 209.5,106.0 208.4,106.8 207.7,107.8 207.6,109.2 208.1,110.7 209.1,111.8 210.4,112.5 211.9,112.8 213.5,113.0 215.1,113.2 216.6,113.5 218.2,113.8 219.6,114.1 221.1,114.4 222.5,114.7 224.0,115.0 225.4,115.3 226.8,115.5 228.3,115.7 229.7,115.9 231.2,116.0 232.6,116.2 234.1,116.3 235.6,116.4 237.1,116.6 238.6,116.8 240.1,117.0 241.7,117.2 243.2,117.5 244.8,117.8 246.4,118.1 248.0,118.6 249.3,119.0 249.7,119.6 249.1,120.1 247.6,120.6 245.8,121.1 243.8,121.6 241.9,121.9 240.2,122.2 238.7,122.5 237.2,122.7 235.9,122.9 234.5,123.0 233.2,123.2 231.9,123.3 230.5,123.4 229.1,123.6 227.7,123.8 226.2,123.9 224.7,124.1 223.2,124.3 221.7,124.5 220.1,124.7 218.6,124.9 217.1,125.1 215.5,125.2 214.0,125.4 212.5,125.6 211.0,125.8 209.5,125.9 208.0,126.1 206.5,126.3 205.0,126.4 203.6,126.6 202.1,126.8 200.6,127.0 199.1,127.1 197.6,127.3 196.2,127.5 194.7,127.6 193.2,127.8 191.7,128.0 190.3,128.2 188.8,128.4 187.3,128.6 185.8,128.8 184.3,129.0 182.9,129.3 181.4,129.6 179.9,129.9 178.5,130.3 177.0,130.8 175.5,131.3 174.1,131.8 172.7,132.5 171.3,133.2 169.9,134.0 169.1,134.8 169.3,135.6 170.4,136.3 172.2,136.9 174.0,137.4 175.7,137.9 177.3,138.2 178.8,138.6 180.3,138.9 181.7,139.2 183.1,139.4 184.5,139.6 185.8,139.9 187.3,140.1 188.7,140.3 190.1,140.5 191.6,140.7 193.0,140.8 194.5,141.0 196.0,141.2 197.5,141.4 199.0,141.6 200.5,141.8 202.0,142.0 203.5,142.2 205.0,142.4 206.5,142.6 208.0,142.8 209.6,143.1 211.1,143.3 212.6,143.6 214.1,143.8 215.6,144.1 217.2,144.4 218.7,144.8 220.1,145.2 220.7,145.8 220.0,146.9 218.7,148.0 217.3,148.7 215.8,149.1 214.3,149.4 212.8,149.6 211.3,149.7 209.8,149.9 208.3,150.1 206.8,150.3 205.3,150.6 203.8,150.9 202.4,151.3 200.9,151.6 199.5,152.0 198.0,152.3 196.6,152.6 195.1,152.9 193.6,153.3 192.2,153.5 190.7,153.8 189.2,154.1 187.7,154.3 186.3,154.6 184.8,154.8 183.3,155.0 181.8,155.2 180.3,155.3 178.8,155.5 177.3,155.7 175.8,155.9 174.3,156.0 172.8,156.2 171.3,156.4 169.8,156.6 168.3,156.8 166.9,157.1 165.4,157.3 163.9,157.6 162.5,158.0 161.0,158.3 159.6,158.7 158.1,159.2 156.7,159.6 155.3,160.2 153.9,160.8 152.6,161.4 151.5,162.3 151.2,163.8 151.1,165.5 150.7,167.0 149.8,168.2 148.7,169.2 147.6,170.1 146.3,170.8 144.9,171.4 143.5,171.8 142.1,172.2 140.5,172.5 139.0,172.8 137.4,172.9 135.8,173.2 134.3,173.6 133.1,174.3 132.2,175.5 132.2,176.6 133.3,177.1 134.9,177.4 136.7,177.7 138.4,177.9 139.9,178.2 141.4,178.5 142.9,178.8 144.3,179.1 145.7,179.4 147.1,179.7 148.4,180.0 149.8,180.4 151.2,180.7 152.7,181.0 154.2,181.3 155.7,181.6 157.3,181.9 158.8,182.4 160.2,183.2 161.3,184.3 161.8,185.6 161.3,186.7 160.0,187.6 158.4,188.4 156.9,189.1 155.5,189.7 154.2,190.3 152.9,190.7 151.6,191.2 150.2,191.6 148.9,192.1 147.5,192.6 146.1,193.2 144.6,193.9 143.9,194.2" stroke="#2ca02c"/>
</g>
<path d="M40.7,194.2 v2.4 M80.6,194.2 v2.4 M120.6,194.2 v2.4 M160.5,194.2 v2.4 M200.5,194.2 v2.4 M240.4,194.2 v2.4 M37.7,187 h-2.4 M37.7,147.9 h-2.4 M37.7,108.9 h-2.4 M37.7,69.9 h-2.4 M37.7,30.8 h-2.4" stroke="#333" stroke-width=".6" fill="none"/>
<rect x="37.7" y="23.7" width="230.90000000000003" height="170.5" fill="none" stroke="#444" stroke-width=".7"/>
<g font-size="8.3" fill="#1a1a1a">
<text x="40.7" y="206.2" text-anchor="middle">0.00</text>
<text x="80.6" y="206.2" text-anchor="middle">0.01</text>
<text x="120.6" y="206.2" text-anchor="middle">0.02</text>
<text x="160.5" y="206.2" text-anchor="middle">0.03</text>
<text x="200.5" y="206.2" text-anchor="middle">0.04</text>
<text x="240.4" y="206.2" text-anchor="middle">0.05</text>
<text x="32.6" y="190.1" text-anchor="end">−2</text>
<text x="32.6" y="151" text-anchor="end">−1</text>
<text x="32.6" y="112" text-anchor="end">0</text>
<text x="32.6" y="73" text-anchor="end">1</text>
<text x="32.6" y="33.9" text-anchor="end">2</text>
<text x="148.9" y="216.9" text-anchor="middle" font-size="10.5">total power (a.u.)</text>
<text transform="translate(11.9,107.1) rotate(-90)" text-anchor="middle" font-size="10.5">frequency (<tspan font-style="italic">f</tspan> − <tspan font-style="italic">f</tspan><tspan font-size="7.3" dy="1.8">0</tspan><tspan dy="-1.8">) (GHz)</tspan></text>
</g>
<rect x="164.9" y="1.8" width="129.6" height="46.4" rx="2" ry="2" fill="#fff" fill-opacity=".8" stroke="#ccc" stroke-width=".8"/>
<path d="M167.5,9.8 h10" stroke="#1f77b4" stroke-width="1"/>
<text y="12.8" font-size="8.6" fill="#1a1a1a"><tspan x="184.6" font-style="italic">k</tspan><tspan font-size="6.3" font-style="italic" dy="1.3">s</tspan><tspan x="193.8" dy="-1.3">=2.5GHz,</tspan><tspan x="240.2" font-style="italic">k</tspan><tspan font-size="6.3" font-style="italic" dy="1.3">w</tspan><tspan x="251.1" dy="-1.3">=0.6GHz</tspan></text>
<path d="M167.5,24.6 h10" stroke="#ff7f0e" stroke-width="1"/>
<text y="27.6" font-size="8.6" fill="#1a1a1a"><tspan x="184.6" font-style="italic">k</tspan><tspan font-size="6.3" font-style="italic" dy="1.3">s</tspan><tspan x="193.8" dy="-1.3">=1.9GHz,</tspan><tspan x="240.2" font-style="italic">k</tspan><tspan font-size="6.3" font-style="italic" dy="1.3">w</tspan><tspan x="251.1" dy="-1.3">=0.6GHz</tspan></text>
<path d="M167.5,39.4 h10" stroke="#2ca02c" stroke-width="1"/>
<text y="42.4" font-size="8.6" fill="#1a1a1a"><tspan x="184.6" font-style="italic">k</tspan><tspan font-size="6.3" font-style="italic" dy="1.3">s</tspan><tspan x="193.8" dy="-1.3">=1.3GHz,</tspan><tspan x="240.2" font-style="italic">k</tspan><tspan font-size="6.3" font-style="italic" dy="1.3">w</tspan><tspan x="251.1" dy="-1.3">=0.6GHz</tspan></text></g>
<g id="tt" fill="#111"><text x="5.1" y="22.3" font-family="'Liberation Sans','DejaVu Sans',sans-serif" font-weight="bold" font-size="12.8">a</text>
<text x="7.2" y="279.1" font-family="'Liberation Sans','DejaVu Sans',sans-serif" font-weight="bold" font-size="12.8">b</text>
<text x="22.9" y="278.8" font-family="'Liberation Serif','DejaVu Serif',serif" font-size="11.6" stroke="#111" stroke-width=".16" textLength="63.7">k<tspan font-size="8.2" dy="2">s</tspan><tspan dy="-2"> = 2.5GHz,</tspan></text>
<text x="25.6" y="292.3" font-family="'Liberation Serif','DejaVu Serif',serif" font-size="11.6" stroke="#111" stroke-width=".16" textLength="60.5">k<tspan font-size="8.2" dy="2">w</tspan><tspan dy="-2">= 0.6GHz</tspan></text>
<text x="42.6" y="305.5" font-family="'Liberation Serif','DejaVu Serif',serif" font-size="11.6" stroke="#111" stroke-width=".16" textLength="25.9">f ≈ f<tspan font-size="8.2" dy="2">0</tspan></text>
<text x="301.3" y="23.2" font-family="'Liberation Sans','DejaVu Sans',sans-serif" font-weight="bold" font-size="12.8">c</text>
<text x="316.5" y="23.2" font-family="'Liberation Serif','DejaVu Serif',serif" font-size="11.6" stroke="#111" stroke-width=".16" textLength="127.6">k<tspan font-size="8.2" dy="2">s</tspan><tspan dy="-2"> = 1.9GHz,</tspan> k<tspan font-size="8.2" dy="2">w</tspan><tspan dy="-2">= 0.6GHz</tspan></text>
<text x="368.6" y="36.3" font-family="'Liberation Serif','DejaVu Serif',serif" font-size="11.6" stroke="#111" stroke-width=".16" textLength="26.4">f ≈ f<tspan font-size="8.2" dy="2">0</tspan></text>
<text x="301.3" y="202.5" font-family="'Liberation Sans','DejaVu Sans',sans-serif" font-weight="bold" font-size="12.8">d</text>
<text x="317.9" y="202.5" font-family="'Liberation Serif','DejaVu Serif',serif" font-size="11.6" stroke="#111" stroke-width=".16" textLength="128.5">k<tspan font-size="8.2" dy="2">s</tspan><tspan dy="-2"> = 1.9GHz,</tspan> k<tspan font-size="8.2" dy="2">w</tspan><tspan dy="-2">= 0.6GHz</tspan></text>
<text x="342.4" y="215.6" font-family="'Liberation Serif','DejaVu Serif',serif" font-size="11.6" stroke="#111" stroke-width=".16" textLength="81.8">f ≈ f<tspan font-size="8.2" dy="2">0</tspan><tspan dy="-2"> − 150MHz</tspan></text>
<text x="501.3" y="23.2" font-family="'Liberation Sans','DejaVu Sans',sans-serif" font-weight="bold" font-size="12.8">e</text>
<text x="517.9" y="23.2" font-family="'Liberation Serif','DejaVu Serif',serif" font-size="11.6" stroke="#111" stroke-width=".16" textLength="127.8">k<tspan font-size="8.2" dy="2">s</tspan><tspan dy="-2"> = 1.3GHz,</tspan> k<tspan font-size="8.2" dy="2">w</tspan><tspan dy="-2">= 0.6GHz</tspan></text>
<text x="570.2" y="36.3" font-family="'Liberation Serif','DejaVu Serif',serif" font-size="11.6" stroke="#111" stroke-width=".16" textLength="26.4">f ≈ f<tspan font-size="8.2" dy="2">0</tspan></text>
<text x="501.5" y="202.5" font-family="'Liberation Sans','DejaVu Sans',sans-serif" font-weight="bold" font-size="12.8">f</text>
<text x="514.9" y="202.5" font-family="'Liberation Serif','DejaVu Serif',serif" font-size="11.6" stroke="#111" stroke-width=".16" textLength="127.8">k<tspan font-size="8.2" dy="2">s</tspan><tspan dy="-2"> = 1.3GHz,</tspan> k<tspan font-size="8.2" dy="2">w</tspan><tspan dy="-2">= 0.6GHz</tspan></text>
<text x="539.4" y="215.6" font-family="'Liberation Serif','DejaVu Serif',serif" font-size="11.6" stroke="#111" stroke-width=".16" textLength="81.8">f ≈ f<tspan font-size="8.2" dy="2">0</tspan><tspan dy="-2"> − 275MHz</tspan></text></g>
</svg>
</body></html>
